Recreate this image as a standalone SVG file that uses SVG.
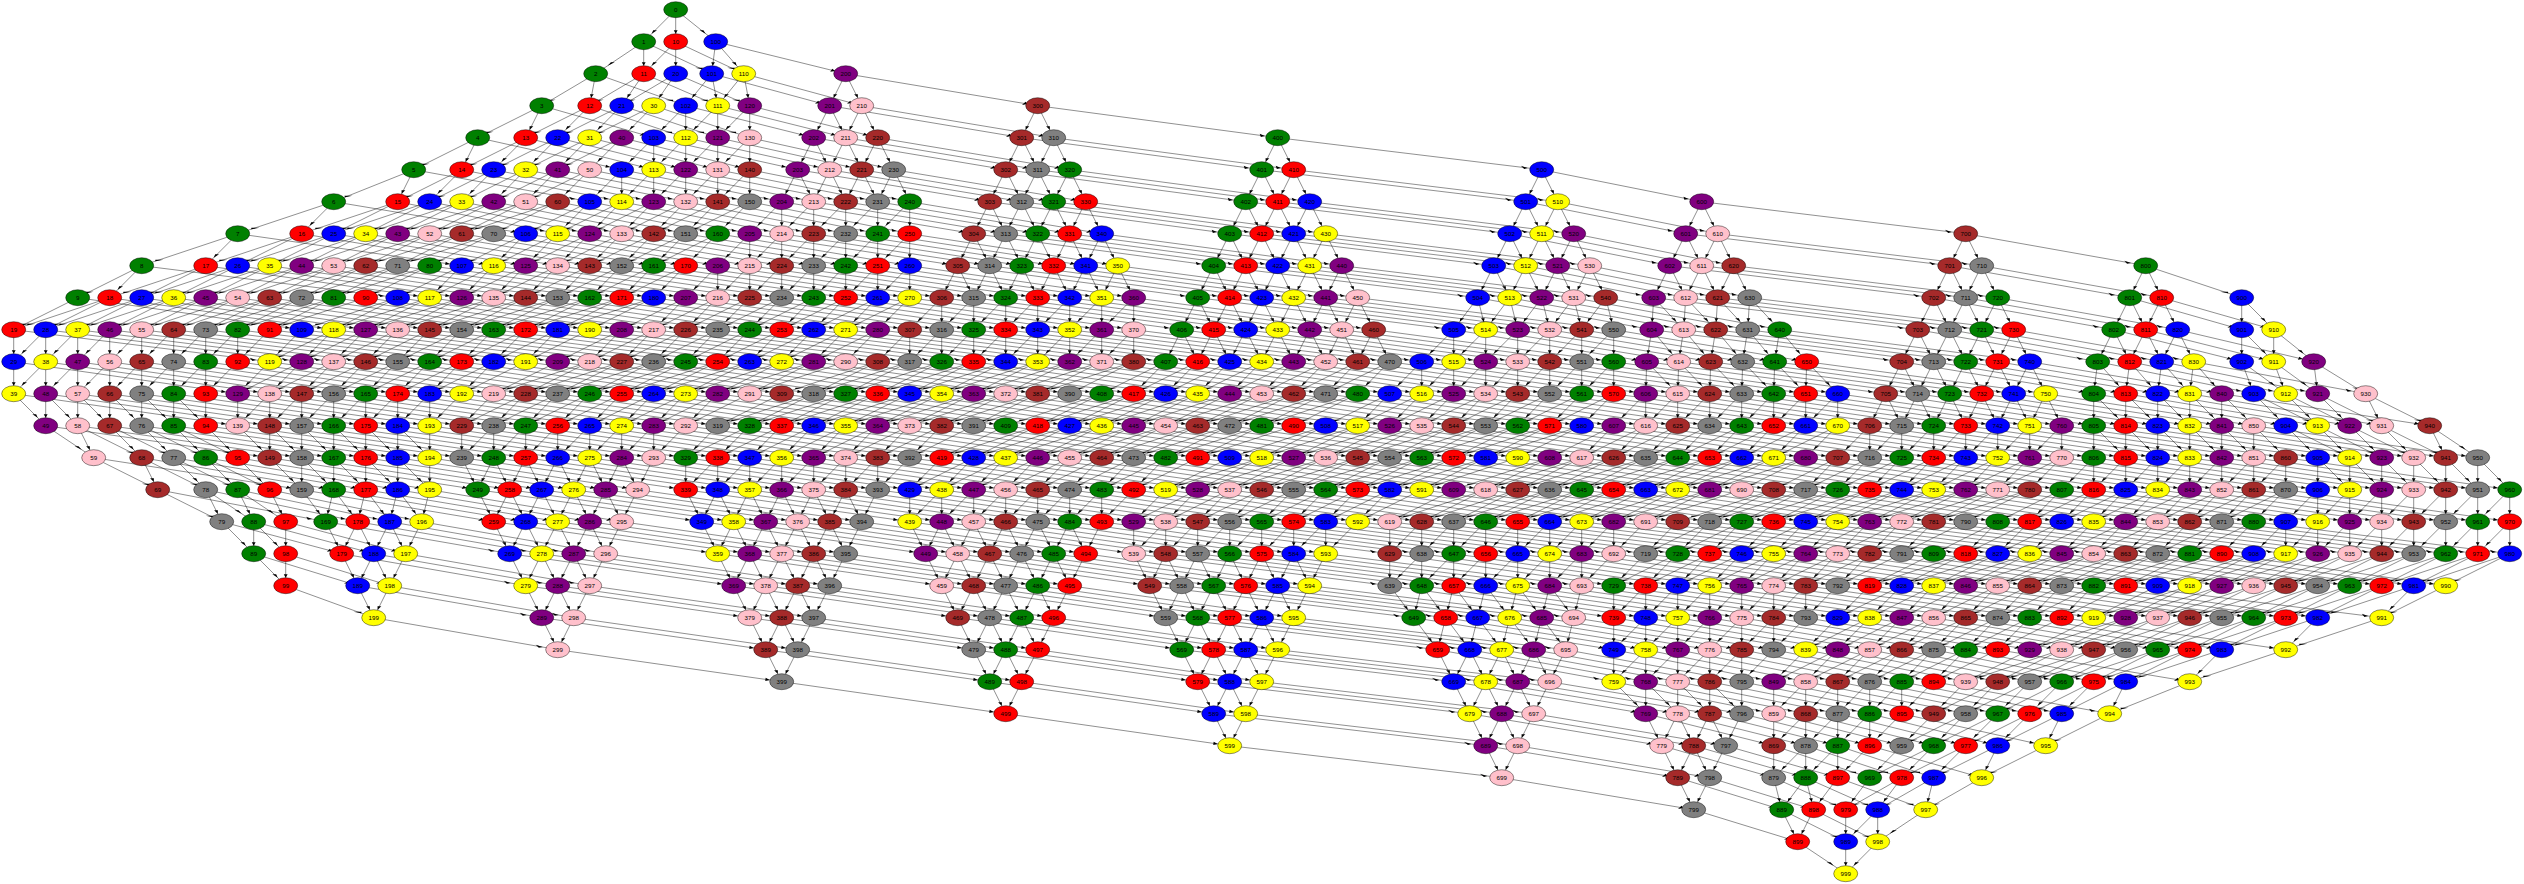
<svg xmlns="http://www.w3.org/2000/svg" width="2524" height="884" viewBox="0 0 2524 884">
<style>
#r1{fill:none;stroke:#000;stroke-width:.44;vector-effect:non-scaling-stroke}
.k{marker-end:url(#k)}.l{marker-end:url(#l)}.p{marker-end:url(#p)}.o{marker-end:url(#o)}
ellipse{rx:12px;ry:8px;stroke:#000;stroke-width:.44}
text{font:6.2px "Liberation Sans",Arial,sans-serif;text-anchor:middle;dominant-baseline:central;fill:#000}
.a{fill:green}.b{fill:red}.c{fill:blue}.d{fill:#ff0}.e{fill:purple}.f{fill:pink}.g{fill:brown}.h{fill:gray}
</style>
<defs>
<marker id="k" markerUnits="userSpaceOnUse" markerWidth="9" markerHeight="9" refX="8" orient="auto" overflow="visible"><path d="M0 0-3.4 1.9-3.4-1.9z"/></marker>
<marker id="l" markerUnits="userSpaceOnUse" markerWidth="9" markerHeight="9" refX="4.5" orient="auto" overflow="visible"><path d="M0 0-1.4 4-1.4-4z"/></marker>
<marker id="p" markerUnits="userSpaceOnUse" markerWidth="9" markerHeight="9" refX="2.6" orient="auto" overflow="visible"><path d="M0 0 .56 7.14-2.47-7.17z"/></marker>
<marker id="o" markerUnits="userSpaceOnUse" markerWidth="9" markerHeight="9" refX="1.7" orient="auto" overflow="visible"><path d="M0 0 .91 10.95-2.15-10.91z"/></marker>
<path id="r1" d="M0 0V32"/>
<g id="r2"><use href="#r1"/><use href="#r1" x="32"/></g>
<g id="r3"><use href="#r2"/><use href="#r1" x="64"/></g>
<g id="r4"><use href="#r2"/><use href="#r2" x="64"/></g>
<g id="r5"><use href="#r4"/><use href="#r1" x="128"/></g>
<g id="r6"><use href="#r4"/><use href="#r2" x="128"/></g>
<g id="r7"><use href="#r4"/><use href="#r3" x="128"/></g>
<g id="r8"><use href="#r4"/><use href="#r4" x="128"/></g>
<g id="r9"><use href="#r8"/><use href="#r1" x="256"/></g>
<g id="r10"><use href="#r8"/><use href="#r2" x="256"/></g>
</defs>
<rect width="2524" height="884" fill="#fff"/>
<g transform="translate(-.3 -.3)">
<g id="e">
<g id="e0">
<use class="k" href="#r1" transform="matrix(1 0 -1 1 676 10)"/><use class="k" href="#r1" transform="matrix(1 0 0 1 676 10)"/><use class="k" href="#r1" transform="matrix(1 0 1.25 1 676 10)"/>
<use class="k" href="#r1" transform="matrix(1 0 -1.5 1 644 42)"/><use class="k" href="#r1" transform="matrix(1 0 0 1 644 42)"/><use class="k" href="#r1" transform="matrix(1 0 -1 1 676 42)"/><use class="k" href="#r1" transform="matrix(1 0 0 1 676 42)"/><use class="l" href="#r2" transform="matrix(1 0 2.125 1 644 42)"/>
<use class="l" href="#r1" transform="matrix(1 0 -1.6875 1 596 74)"/><use class="k" href="#r1" transform="matrix(1 0 -.1875 1 596 74)"/><use class="l" href="#r2" transform="matrix(1 0 -1.6875 1 644 74)"/><use class="k" href="#r2" transform="matrix(1 0 -.6875 1 644 74)"/><use class="l" href="#r1" transform="matrix(1 0 2.8125 1 596 74)"/><use class="l" href="#r2" transform="matrix(1 0 2.3125 1 644 74)"/>
<use class="l" href="#r1" transform="matrix(1 0 -2 1 542 106)"/><use class="k" href="#r1" transform="matrix(1 0 -.5 1 542 106)"/><use class="l" href="#r3" transform="matrix(1 0 -2 1 590 106)"/><use class="k" href="#r3" transform="matrix(1 0 -1 1 590 106)"/><use class="p" href="#r1" transform="matrix(1 0 3.5 1 542 106)"/><use class="l" href="#r3" transform="matrix(1 0 3 1 590 106)"/>
<use class="l" href="#r1" transform="matrix(1 0 -2 1 478 138)"/><use class="k" href="#r1" transform="matrix(1 0 -.5 1 478 138)"/><use class="l" href="#r4" transform="matrix(1 0 -2 1 526 138)"/><use class="k" href="#r4" transform="matrix(1 0 -1 1 526 138)"/><use class="p" href="#r1" transform="matrix(1 0 4.5 1 478 138)"/><use class="p" href="#r4" transform="matrix(1 0 4 1 526 138)"/>
<use class="l" href="#r1" transform="matrix(1 0 -2.5 1 414 170)"/><use class="k" href="#r1" transform="matrix(1 0 -.5 1 414 170)"/><use class="l" href="#r5" transform="matrix(1 0 -2 1 462 170)"/><use class="k" href="#r5" transform="matrix(1 0 -1 1 462 170)"/><use class="p" href="#r1" transform="matrix(1 0 5.5 1 414 170)"/><use class="p" href="#r5" transform="matrix(1 0 5 1 462 170)"/>
<use class="l" href="#r1" transform="matrix(1 0 -3 1 334 202)"/><use class="k" href="#r1" transform="matrix(1 0 -1 1 334 202)"/><use class="l" href="#r6" transform="matrix(1 0 -3 1 398 202)"/><use class="l" href="#r6" transform="matrix(1 0 -2 1 398 202)"/><use class="o" href="#r1" transform="matrix(1 0 6 1 334 202)"/><use class="p" href="#r6" transform="matrix(1 0 5 1 398 202)"/>
<use class="l" href="#r1" transform="matrix(1 0 -3 1 238 234)"/><use class="k" href="#r1" transform="matrix(1 0 -1 1 238 234)"/><use class="l" href="#r7" transform="matrix(1 0 -3 1 302 234)"/><use class="l" href="#r7" transform="matrix(1 0 -2 1 302 234)"/><use class="o" href="#r1" transform="matrix(1 0 7 1 238 234)"/><use class="o" href="#r7" transform="matrix(1 0 6 1 302 234)"/>
<use class="l" href="#r1" transform="matrix(1 0 -2 1 142 266)"/><use class="k" href="#r1" transform="matrix(1 0 -1 1 142 266)"/><use class="l" href="#r8" transform="matrix(1 0 -3 1 206 266)"/><use class="l" href="#r8" transform="matrix(1 0 -2 1 206 266)"/><use class="o" href="#r1" transform="matrix(1 0 8 1 142 266)"/><use class="o" href="#r8" transform="matrix(1 0 7 1 206 266)"/>
<use class="l" href="#r9" transform="matrix(1 0 -3 1 110 298)"/><use class="l" href="#r9" transform="matrix(1 0 -2 1 78 298)"/><use class="o" href="#r10" transform="matrix(1 0 7 1 78 298)"/>
<use class="k" href="#r8" transform="matrix(1 0 -1 1 46 330)"/><use class="k" href="#r8" transform="matrix(1 0 0 1 14 330)"/><use class="o" href="#r9" transform="matrix(1 0 8 1 14 330)"/>
<use class="k" href="#r7" transform="matrix(1 0 -1 1 46 362)"/><use class="k" href="#r7" transform="matrix(1 0 0 1 14 362)"/><use class="o" href="#r8" transform="matrix(1 0 7 1 14 362)"/>
<use class="k" href="#r6" transform="matrix(1 0 0 1 46 394)"/><use class="k" href="#r6" transform="matrix(1 0 1 1 14 394)"/><use class="o" href="#r7" transform="matrix(1 0 7 1 14 394)"/>
<use class="k" href="#r1" transform="matrix(1 0 1.5 1 46 426)"/><use class="l" href="#r4" transform="matrix(1 0 2 1 78 426)"/><use class="k" href="#r1" transform="matrix(1 0 .5 1 78 426)"/><use class="k" href="#r4" transform="matrix(1 0 1 1 110 426)"/><use class="o" href="#r6" transform="matrix(1 0 7 1 46 426)"/>
<use class="l" href="#r1" transform="matrix(1 0 2 1 94 458)"/><use class="l" href="#r3" transform="matrix(1 0 2 1 142 458)"/><use class="k" href="#r1" transform="matrix(1 0 .5 1 142 458)"/><use class="k" href="#r3" transform="matrix(1 0 1 1 174 458)"/><use class="o" href="#r1" transform="matrix(1 0 6.5 1 94 458)"/><use class="o" href="#r4" transform="matrix(1 0 6 1 142 458)"/>
<use class="l" href="#r1" transform="matrix(1 0 2 1 158 490)"/><use class="k" href="#r2" transform="matrix(1 0 1.5 1 206 490)"/><use class="k" href="#r3" transform="matrix(1 0 .5 1 206 490)"/><use class="p" href="#r1" transform="matrix(1 0 5.25 1 158 490)"/><use class="p" href="#r3" transform="matrix(1 0 4.75 1 206 490)"/>
<use class="k" href="#r2" transform="matrix(1 0 0 1 254 522)"/><use class="k" href="#r2" transform="matrix(1 0 1 1 222 522)"/><use class="p" href="#r3" transform="matrix(1 0 3.75 1 222 522)"/>
<use class="k" href="#r1" transform="matrix(1 0 0 1 286 554)"/><use class="k" href="#r1" transform="matrix(1 0 1 1 254 554)"/><use class="p" href="#r2" transform="matrix(1 0 3.25 1 254 554)"/>
<use class="l" href="#r1" transform="matrix(1 0 2.75 1 286 586)"/>
</g>
<g id="e1">
<use class="k" href="#r1" transform="matrix(1 0 -.125 1 716 42)"/><use class="k" href="#r1" transform="matrix(1 0 .875 1 716 42)"/><use class="p" href="#r1" transform="matrix(1 0 4.0625 1 716 42)"/>
<use class="k" href="#r2" transform="matrix(1 0 -.8125 1 712 74)"/><use class="k" href="#r2" transform="matrix(1 0 .1875 1 712 74)"/><use class="p" href="#r2" transform="matrix(1 0 3.6875 1 712 74)"/>
<use class="k" href="#r3" transform="matrix(1 0 -1 1 686 106)"/><use class="k" href="#r3" transform="matrix(1 0 0 1 686 106)"/><use class="p" href="#r3" transform="matrix(1 0 4 1 686 106)"/>
<use class="k" href="#r4" transform="matrix(1 0 -1 1 654 138)"/><use class="k" href="#r4" transform="matrix(1 0 0 1 654 138)"/><use class="p" href="#r4" transform="matrix(1 0 4.5 1 654 138)"/>
<use class="k" href="#r5" transform="matrix(1 0 -1 1 622 170)"/><use class="k" href="#r5" transform="matrix(1 0 0 1 622 170)"/><use class="p" href="#r5" transform="matrix(1 0 5 1 622 170)"/>
<use class="l" href="#r6" transform="matrix(1 0 -2 1 590 202)"/><use class="k" href="#r6" transform="matrix(1 0 -1 1 590 202)"/><use class="p" href="#r6" transform="matrix(1 0 5 1 590 202)"/>
<use class="l" href="#r7" transform="matrix(1 0 -2 1 526 234)"/><use class="k" href="#r7" transform="matrix(1 0 -1 1 526 234)"/><use class="o" href="#r7" transform="matrix(1 0 6 1 526 234)"/>
<use class="l" href="#r8" transform="matrix(1 0 -2 1 462 266)"/><use class="k" href="#r8" transform="matrix(1 0 -1 1 462 266)"/><use class="o" href="#r8" transform="matrix(1 0 7 1 462 266)"/>
<use class="l" href="#r9" transform="matrix(1 0 -3 1 398 298)"/><use class="l" href="#r9" transform="matrix(1 0 -2 1 398 298)"/><use class="o" href="#r9" transform="matrix(1 0 7 1 398 298)"/>
<use class="l" href="#r9" transform="matrix(1 0 -2 1 334 330)"/><use class="k" href="#r9" transform="matrix(1 0 -1 1 302 330)"/><use class="o" href="#r10" transform="matrix(1 0 8 1 302 330)"/>
<use class="l" href="#r8" transform="matrix(1 0 -2 1 302 362)"/><use class="k" href="#r8" transform="matrix(1 0 -1 1 270 362)"/><use class="o" href="#r9" transform="matrix(1 0 7 1 270 362)"/>
<use class="k" href="#r7" transform="matrix(1 0 -1 1 270 394)"/><use class="k" href="#r7" transform="matrix(1 0 0 1 238 394)"/><use class="o" href="#r8" transform="matrix(1 0 7 1 238 394)"/>
<use class="k" href="#r6" transform="matrix(1 0 0 1 270 426)"/><use class="k" href="#r6" transform="matrix(1 0 1 1 238 426)"/><use class="o" href="#r7" transform="matrix(1 0 7 1 238 426)"/>
<use class="k" href="#r5" transform="matrix(1 0 0 1 302 458)"/><use class="k" href="#r5" transform="matrix(1 0 1 1 270 458)"/><use class="o" href="#r6" transform="matrix(1 0 6.5 1 270 458)"/>
<use class="k" href="#r4" transform="matrix(1 0 -.25 1 334 490)"/><use class="k" href="#r4" transform="matrix(1 0 .75 1 302 490)"/><use class="o" href="#r5" transform="matrix(1 0 6 1 302 490)"/>
<use class="k" href="#r3" transform="matrix(1 0 -.5 1 358 522)"/><use class="k" href="#r3" transform="matrix(1 0 .5 1 326 522)"/><use class="p" href="#r4" transform="matrix(1 0 5.75 1 326 522)"/>
<use class="k" href="#r2" transform="matrix(1 0 -.5 1 374 554)"/><use class="k" href="#r2" transform="matrix(1 0 .5 1 342 554)"/><use class="p" href="#r3" transform="matrix(1 0 5.75 1 342 554)"/>
<use class="k" href="#r1" transform="matrix(1 0 -.5 1 390 586)"/><use class="k" href="#r1" transform="matrix(1 0 .5 1 358 586)"/><use class="p" href="#r2" transform="matrix(1 0 5.75 1 358 586)"/>
<use class="p" href="#r1" transform="matrix(1 0 5.75 1 374 618)"/>
</g>
<g id="e2">
<use class="k" href="#r1" transform="matrix(1 0 -.5 1 846 74)"/><use class="k" href="#r1" transform="matrix(1 0 .5 1 846 74)"/><use class="o" href="#r1" transform="matrix(1 0 6 1 846 74)"/>
<use class="k" href="#r2" transform="matrix(1 0 -.5 1 830 106)"/><use class="k" href="#r2" transform="matrix(1 0 .5 1 830 106)"/><use class="o" href="#r2" transform="matrix(1 0 6 1 830 106)"/>
<use class="k" href="#r3" transform="matrix(1 0 -.5 1 814 138)"/><use class="k" href="#r3" transform="matrix(1 0 .5 1 814 138)"/><use class="o" href="#r3" transform="matrix(1 0 6 1 814 138)"/>
<use class="k" href="#r4" transform="matrix(1 0 -.5 1 798 170)"/><use class="k" href="#r4" transform="matrix(1 0 .5 1 798 170)"/><use class="o" href="#r4" transform="matrix(1 0 6 1 798 170)"/>
<use class="k" href="#r5" transform="matrix(1 0 -1 1 782 202)"/><use class="k" href="#r5" transform="matrix(1 0 0 1 782 202)"/><use class="o" href="#r5" transform="matrix(1 0 6 1 782 202)"/>
<use class="k" href="#r6" transform="matrix(1 0 -1 1 750 234)"/><use class="k" href="#r6" transform="matrix(1 0 0 1 750 234)"/><use class="o" href="#r6" transform="matrix(1 0 6.5 1 750 234)"/>
<use class="k" href="#r7" transform="matrix(1 0 -1 1 718 266)"/><use class="k" href="#r7" transform="matrix(1 0 0 1 718 266)"/><use class="o" href="#r7" transform="matrix(1 0 7 1 718 266)"/>
<use class="l" href="#r8" transform="matrix(1 0 -2 1 686 298)"/><use class="k" href="#r8" transform="matrix(1 0 -1 1 686 298)"/><use class="o" href="#r8" transform="matrix(1 0 7 1 686 298)"/>
<use class="l" href="#r9" transform="matrix(1 0 -2 1 622 330)"/><use class="k" href="#r9" transform="matrix(1 0 -1 1 622 330)"/><use class="o" href="#r9" transform="matrix(1 0 8 1 622 330)"/>
<use class="l" href="#r9" transform="matrix(1 0 -3 1 590 362)"/><use class="l" href="#r9" transform="matrix(1 0 -2 1 558 362)"/><use class="o" href="#r10" transform="matrix(1 0 7 1 558 362)"/>
<use class="l" href="#r8" transform="matrix(1 0 -2 1 526 394)"/><use class="k" href="#r8" transform="matrix(1 0 -1 1 494 394)"/><use class="o" href="#r9" transform="matrix(1 0 7 1 494 394)"/>
<use class="k" href="#r7" transform="matrix(1 0 -1 1 494 426)"/><use class="k" href="#r7" transform="matrix(1 0 0 1 462 426)"/><use class="o" href="#r8" transform="matrix(1 0 7 1 462 426)"/>
<use class="k" href="#r6" transform="matrix(1 0 -.5 1 494 458)"/><use class="k" href="#r6" transform="matrix(1 0 .5 1 462 458)"/><use class="o" href="#r7" transform="matrix(1 0 7 1 462 458)"/>
<use class="k" href="#r5" transform="matrix(1 0 -.5 1 510 490)"/><use class="k" href="#r5" transform="matrix(1 0 .5 1 478 490)"/><use class="o" href="#r6" transform="matrix(1 0 7 1 478 490)"/>
<use class="k" href="#r4" transform="matrix(1 0 -.5 1 526 522)"/><use class="k" href="#r4" transform="matrix(1 0 .5 1 494 522)"/><use class="o" href="#r5" transform="matrix(1 0 7 1 494 522)"/>
<use class="k" href="#r3" transform="matrix(1 0 -.5 1 542 554)"/><use class="k" href="#r3" transform="matrix(1 0 .5 1 510 554)"/><use class="o" href="#r4" transform="matrix(1 0 7 1 510 554)"/>
<use class="k" href="#r2" transform="matrix(1 0 -.5 1 558 586)"/><use class="k" href="#r2" transform="matrix(1 0 .5 1 526 586)"/><use class="o" href="#r3" transform="matrix(1 0 7 1 526 586)"/>
<use class="k" href="#r1" transform="matrix(1 0 -.5 1 574 618)"/><use class="k" href="#r1" transform="matrix(1 0 .5 1 542 618)"/><use class="o" href="#r2" transform="matrix(1 0 7 1 542 618)"/>
<use class="o" href="#r1" transform="matrix(1 0 7 1 558 650)"/>
</g>
<g id="e3">
<use class="k" href="#r1" transform="matrix(1 0 -.5 1 1038 106)"/><use class="k" href="#r1" transform="matrix(1 0 .5 1 1038 106)"/><use class="o" href="#r1" transform="matrix(1 0 7.5 1 1038 106)"/>
<use class="k" href="#r2" transform="matrix(1 0 -.5 1 1022 138)"/><use class="k" href="#r2" transform="matrix(1 0 .5 1 1022 138)"/><use class="o" href="#r2" transform="matrix(1 0 7.5 1 1022 138)"/>
<use class="k" href="#r3" transform="matrix(1 0 -.5 1 1006 170)"/><use class="k" href="#r3" transform="matrix(1 0 .5 1 1006 170)"/><use class="o" href="#r3" transform="matrix(1 0 7.5 1 1006 170)"/>
<use class="k" href="#r4" transform="matrix(1 0 -.5 1 990 202)"/><use class="k" href="#r4" transform="matrix(1 0 .5 1 990 202)"/><use class="o" href="#r4" transform="matrix(1 0 7.5 1 990 202)"/>
<use class="k" href="#r5" transform="matrix(1 0 -.5 1 974 234)"/><use class="k" href="#r5" transform="matrix(1 0 .5 1 974 234)"/><use class="o" href="#r5" transform="matrix(1 0 7.5 1 974 234)"/>
<use class="k" href="#r6" transform="matrix(1 0 -.5 1 958 266)"/><use class="k" href="#r6" transform="matrix(1 0 .5 1 958 266)"/><use class="o" href="#r6" transform="matrix(1 0 7.5 1 958 266)"/>
<use class="k" href="#r7" transform="matrix(1 0 -1 1 942 298)"/><use class="k" href="#r7" transform="matrix(1 0 0 1 942 298)"/><use class="o" href="#r7" transform="matrix(1 0 7.5 1 942 298)"/>
<use class="k" href="#r8" transform="matrix(1 0 -1 1 910 330)"/><use class="k" href="#r8" transform="matrix(1 0 0 1 910 330)"/><use class="o" href="#r8" transform="matrix(1 0 8 1 910 330)"/>
<use class="l" href="#r9" transform="matrix(1 0 -3 1 878 362)"/><use class="l" href="#r9" transform="matrix(1 0 -2 1 878 362)"/><use class="o" href="#r9" transform="matrix(1 0 7 1 878 362)"/>
<use class="l" href="#r9" transform="matrix(1 0 -3 1 814 394)"/><use class="l" href="#r9" transform="matrix(1 0 -2 1 782 394)"/><use class="o" href="#r10" transform="matrix(1 0 7 1 782 394)"/>
<use class="l" href="#r8" transform="matrix(1 0 -2 1 750 426)"/><use class="k" href="#r8" transform="matrix(1 0 -1 1 718 426)"/><use class="o" href="#r9" transform="matrix(1 0 7 1 718 426)"/>
<use class="k" href="#r7" transform="matrix(1 0 -1 1 718 458)"/><use class="k" href="#r7" transform="matrix(1 0 0 1 686 458)"/><use class="o" href="#r8" transform="matrix(1 0 7 1 686 458)"/>
<use class="k" href="#r6" transform="matrix(1 0 -.5 1 718 490)"/><use class="k" href="#r6" transform="matrix(1 0 .5 1 686 490)"/><use class="o" href="#r7" transform="matrix(1 0 7 1 686 490)"/>
<use class="k" href="#r5" transform="matrix(1 0 -.5 1 734 522)"/><use class="k" href="#r5" transform="matrix(1 0 .5 1 702 522)"/><use class="o" href="#r6" transform="matrix(1 0 7 1 702 522)"/>
<use class="k" href="#r4" transform="matrix(1 0 -.5 1 750 554)"/><use class="k" href="#r4" transform="matrix(1 0 .5 1 718 554)"/><use class="o" href="#r5" transform="matrix(1 0 7 1 718 554)"/>
<use class="k" href="#r3" transform="matrix(1 0 -.5 1 766 586)"/><use class="k" href="#r3" transform="matrix(1 0 .5 1 734 586)"/><use class="o" href="#r4" transform="matrix(1 0 7 1 734 586)"/>
<use class="k" href="#r2" transform="matrix(1 0 -.5 1 782 618)"/><use class="k" href="#r2" transform="matrix(1 0 .5 1 750 618)"/><use class="o" href="#r3" transform="matrix(1 0 7 1 750 618)"/>
<use class="k" href="#r1" transform="matrix(1 0 -.5 1 798 650)"/><use class="k" href="#r1" transform="matrix(1 0 .5 1 766 650)"/><use class="o" href="#r2" transform="matrix(1 0 7 1 766 650)"/>
<use class="o" href="#r1" transform="matrix(1 0 7 1 782 682)"/>
</g>
<g id="e4">
<use class="k" href="#r1" transform="matrix(1 0 -.5 1 1278 138)"/><use class="k" href="#r1" transform="matrix(1 0 .5 1 1278 138)"/><use class="o" href="#r1" transform="matrix(1 0 8.25 1 1278 138)"/>
<use class="k" href="#r2" transform="matrix(1 0 -.5 1 1262 170)"/><use class="k" href="#r2" transform="matrix(1 0 .5 1 1262 170)"/><use class="o" href="#r2" transform="matrix(1 0 8.25 1 1262 170)"/>
<use class="k" href="#r3" transform="matrix(1 0 -.5 1 1246 202)"/><use class="k" href="#r3" transform="matrix(1 0 .5 1 1246 202)"/><use class="o" href="#r3" transform="matrix(1 0 8.25 1 1246 202)"/>
<use class="k" href="#r4" transform="matrix(1 0 -.5 1 1230 234)"/><use class="k" href="#r4" transform="matrix(1 0 .5 1 1230 234)"/><use class="o" href="#r4" transform="matrix(1 0 8.25 1 1230 234)"/>
<use class="k" href="#r5" transform="matrix(1 0 -.5 1 1214 266)"/><use class="k" href="#r5" transform="matrix(1 0 .5 1 1214 266)"/><use class="o" href="#r5" transform="matrix(1 0 8.25 1 1214 266)"/>
<use class="k" href="#r6" transform="matrix(1 0 -.5 1 1198 298)"/><use class="k" href="#r6" transform="matrix(1 0 .5 1 1198 298)"/><use class="o" href="#r6" transform="matrix(1 0 8 1 1198 298)"/>
<use class="k" href="#r7" transform="matrix(1 0 -.5 1 1182 330)"/><use class="k" href="#r7" transform="matrix(1 0 .5 1 1182 330)"/><use class="o" href="#r7" transform="matrix(1 0 7.5 1 1182 330)"/>
<use class="l" href="#r8" transform="matrix(1 0 -2 1 1166 362)"/><use class="k" href="#r8" transform="matrix(1 0 -1 1 1166 362)"/><use class="o" href="#r8" transform="matrix(1 0 7 1 1166 362)"/>
<use class="l" href="#r9" transform="matrix(1 0 -3 1 1102 394)"/><use class="l" href="#r9" transform="matrix(1 0 -2 1 1102 394)"/><use class="o" href="#r9" transform="matrix(1 0 7 1 1102 394)"/>
<use class="l" href="#r9" transform="matrix(1 0 -3 1 1038 426)"/><use class="l" href="#r9" transform="matrix(1 0 -2 1 1006 426)"/><use class="o" href="#r10" transform="matrix(1 0 7 1 1006 426)"/>
<use class="l" href="#r8" transform="matrix(1 0 -2 1 974 458)"/><use class="k" href="#r8" transform="matrix(1 0 -1 1 942 458)"/><use class="o" href="#r9" transform="matrix(1 0 7 1 942 458)"/>
<use class="k" href="#r7" transform="matrix(1 0 -1 1 942 490)"/><use class="k" href="#r7" transform="matrix(1 0 0 1 910 490)"/><use class="o" href="#r8" transform="matrix(1 0 7 1 910 490)"/>
<use class="k" href="#r6" transform="matrix(1 0 -.5 1 942 522)"/><use class="k" href="#r6" transform="matrix(1 0 .5 1 910 522)"/><use class="o" href="#r7" transform="matrix(1 0 7 1 910 522)"/>
<use class="k" href="#r5" transform="matrix(1 0 -.5 1 958 554)"/><use class="k" href="#r5" transform="matrix(1 0 .5 1 926 554)"/><use class="o" href="#r6" transform="matrix(1 0 7 1 926 554)"/>
<use class="k" href="#r4" transform="matrix(1 0 -.5 1 974 586)"/><use class="k" href="#r4" transform="matrix(1 0 .5 1 942 586)"/><use class="o" href="#r5" transform="matrix(1 0 7 1 942 586)"/>
<use class="k" href="#r3" transform="matrix(1 0 -.5 1 990 618)"/><use class="k" href="#r3" transform="matrix(1 0 .5 1 958 618)"/><use class="o" href="#r4" transform="matrix(1 0 7 1 958 618)"/>
<use class="k" href="#r2" transform="matrix(1 0 -.5 1 1006 650)"/><use class="k" href="#r2" transform="matrix(1 0 .5 1 974 650)"/><use class="o" href="#r3" transform="matrix(1 0 7 1 974 650)"/>
<use class="k" href="#r1" transform="matrix(1 0 -.5 1 1022 682)"/><use class="k" href="#r1" transform="matrix(1 0 .5 1 990 682)"/><use class="o" href="#r2" transform="matrix(1 0 7 1 990 682)"/>
<use class="o" href="#r1" transform="matrix(1 0 7 1 1006 714)"/>
</g>
<g id="e5">
<use class="k" href="#r1" transform="matrix(1 0 -.5 1 1542 170)"/><use class="k" href="#r1" transform="matrix(1 0 .5 1 1542 170)"/><use class="p" href="#r1" transform="matrix(1 0 5 1 1542 170)"/>
<use class="k" href="#r2" transform="matrix(1 0 -.5 1 1526 202)"/><use class="k" href="#r2" transform="matrix(1 0 .5 1 1526 202)"/><use class="p" href="#r2" transform="matrix(1 0 5 1 1526 202)"/>
<use class="k" href="#r3" transform="matrix(1 0 -.5 1 1510 234)"/><use class="k" href="#r3" transform="matrix(1 0 .5 1 1510 234)"/><use class="p" href="#r3" transform="matrix(1 0 5 1 1510 234)"/>
<use class="k" href="#r4" transform="matrix(1 0 -.5 1 1494 266)"/><use class="k" href="#r4" transform="matrix(1 0 .5 1 1494 266)"/><use class="p" href="#r4" transform="matrix(1 0 5 1 1494 266)"/>
<use class="k" href="#r5" transform="matrix(1 0 -.75 1 1478 298)"/><use class="k" href="#r5" transform="matrix(1 0 .25 1 1478 298)"/><use class="p" href="#r5" transform="matrix(1 0 5.4375 1 1478 298)"/>
<use class="k" href="#r6" transform="matrix(1 0 -1 1 1454 330)"/><use class="k" href="#r6" transform="matrix(1 0 0 1 1454 330)"/><use class="o" href="#r6" transform="matrix(1 0 6.03125 1 1454 330)"/>
<use class="k" href="#r7" transform="matrix(1 0 -1 1 1422 362)"/><use class="k" href="#r7" transform="matrix(1 0 0 1 1422 362)"/><use class="o" href="#r7" transform="matrix(1 0 7 1 1422 362)"/>
<use class="l" href="#r8" transform="matrix(1 0 -2 1 1390 394)"/><use class="k" href="#r8" transform="matrix(1 0 -1 1 1390 394)"/><use class="o" href="#r8" transform="matrix(1 0 7 1 1390 394)"/>
<use class="l" href="#r9" transform="matrix(1 0 -3 1 1326 426)"/><use class="l" href="#r9" transform="matrix(1 0 -2 1 1326 426)"/><use class="o" href="#r9" transform="matrix(1 0 7 1 1326 426)"/>
<use class="l" href="#r9" transform="matrix(1 0 -3 1 1262 458)"/><use class="l" href="#r9" transform="matrix(1 0 -2 1 1230 458)"/><use class="o" href="#r10" transform="matrix(1 0 7 1 1230 458)"/>
<use class="l" href="#r8" transform="matrix(1 0 -2 1 1198 490)"/><use class="k" href="#r8" transform="matrix(1 0 -1 1 1166 490)"/><use class="o" href="#r9" transform="matrix(1 0 7 1 1166 490)"/>
<use class="k" href="#r7" transform="matrix(1 0 -1 1 1166 522)"/><use class="k" href="#r7" transform="matrix(1 0 0 1 1134 522)"/><use class="o" href="#r8" transform="matrix(1 0 8 1 1134 522)"/>
<use class="k" href="#r6" transform="matrix(1 0 -.5 1 1166 554)"/><use class="k" href="#r6" transform="matrix(1 0 .5 1 1134 554)"/><use class="o" href="#r7" transform="matrix(1 0 8 1 1134 554)"/>
<use class="k" href="#r5" transform="matrix(1 0 -.5 1 1182 586)"/><use class="k" href="#r5" transform="matrix(1 0 .5 1 1150 586)"/><use class="o" href="#r6" transform="matrix(1 0 8.25 1 1150 586)"/>
<use class="k" href="#r4" transform="matrix(1 0 -.5 1 1198 618)"/><use class="k" href="#r4" transform="matrix(1 0 .5 1 1166 618)"/><use class="o" href="#r5" transform="matrix(1 0 8.5 1 1166 618)"/>
<use class="k" href="#r3" transform="matrix(1 0 -.5 1 1214 650)"/><use class="k" href="#r3" transform="matrix(1 0 .5 1 1182 650)"/><use class="o" href="#r4" transform="matrix(1 0 8.5 1 1182 650)"/>
<use class="k" href="#r2" transform="matrix(1 0 -.5 1 1230 682)"/><use class="k" href="#r2" transform="matrix(1 0 .5 1 1198 682)"/><use class="o" href="#r3" transform="matrix(1 0 8.5 1 1198 682)"/>
<use class="k" href="#r1" transform="matrix(1 0 -.5 1 1246 714)"/><use class="k" href="#r1" transform="matrix(1 0 .5 1 1214 714)"/><use class="o" href="#r2" transform="matrix(1 0 8.5 1 1214 714)"/>
<use class="o" href="#r1" transform="matrix(1 0 8.5 1 1230 746)"/>
</g>
<g id="e6">
<use class="k" href="#r1" transform="matrix(1 0 -.5 1 1702 202)"/><use class="k" href="#r1" transform="matrix(1 0 .5 1 1702 202)"/><use class="o" href="#r1" transform="matrix(1 0 8.25 1 1702 202)"/>
<use class="k" href="#r2" transform="matrix(1 0 -.5 1 1686 234)"/><use class="k" href="#r2" transform="matrix(1 0 .5 1 1686 234)"/><use class="o" href="#r2" transform="matrix(1 0 8.25 1 1686 234)"/>
<use class="k" href="#r3" transform="matrix(1 0 -.5 1 1670 266)"/><use class="k" href="#r3" transform="matrix(1 0 .5 1 1670 266)"/><use class="o" href="#r3" transform="matrix(1 0 8.25 1 1670 266)"/>
<use class="k" href="#r4" transform="matrix(1 0 -.0625 1 1654 298)"/><use class="k" href="#r4" transform="matrix(1 0 .9375 1 1654 298)"/><use class="o" href="#r4" transform="matrix(1 0 8.25 1 1654 298)"/>
<use class="k" href="#r5" transform="matrix(1 0 -.15625 1 1652 330)"/><use class="k" href="#r5" transform="matrix(1 0 .84375 1 1652 330)"/><use class="o" href="#r5" transform="matrix(1 0 7.8125 1 1652 330)"/>
<use class="k" href="#r6" transform="matrix(1 0 -.03125 1 1647 362)"/><use class="k" href="#r6" transform="matrix(1 0 .96875 1 1647 362)"/><use class="o" href="#r6" transform="matrix(1 0 7.46875 1 1647 362)"/>
<use class="k" href="#r7" transform="matrix(1 0 -1 1 1646 394)"/><use class="k" href="#r7" transform="matrix(1 0 0 1 1646 394)"/><use class="o" href="#r7" transform="matrix(1 0 7 1 1646 394)"/>
<use class="l" href="#r8" transform="matrix(1 0 -2 1 1614 426)"/><use class="k" href="#r8" transform="matrix(1 0 -1 1 1614 426)"/><use class="o" href="#r8" transform="matrix(1 0 7 1 1614 426)"/>
<use class="l" href="#r9" transform="matrix(1 0 -3 1 1550 458)"/><use class="l" href="#r9" transform="matrix(1 0 -2 1 1550 458)"/><use class="o" href="#r9" transform="matrix(1 0 7 1 1550 458)"/>
<use class="l" href="#r9" transform="matrix(1 0 -3 1 1486 490)"/><use class="l" href="#r9" transform="matrix(1 0 -2 1 1454 490)"/><use class="o" href="#r10" transform="matrix(1 0 7 1 1454 490)"/>
<use class="k" href="#r8" transform="matrix(1 0 -1 1 1422 522)"/><use class="k" href="#r8" transform="matrix(1 0 0 1 1390 522)"/><use class="o" href="#r9" transform="matrix(1 0 8 1 1390 522)"/>
<use class="k" href="#r7" transform="matrix(1 0 -1 1 1422 554)"/><use class="k" href="#r7" transform="matrix(1 0 0 1 1390 554)"/><use class="o" href="#r8" transform="matrix(1 0 7 1 1390 554)"/>
<use class="k" href="#r6" transform="matrix(1 0 -.25 1 1422 586)"/><use class="k" href="#r6" transform="matrix(1 0 .75 1 1390 586)"/><use class="o" href="#r7" transform="matrix(1 0 7 1 1390 586)"/>
<use class="k" href="#r5" transform="matrix(1 0 -.25 1 1446 618)"/><use class="k" href="#r5" transform="matrix(1 0 .75 1 1414 618)"/><use class="o" href="#r6" transform="matrix(1 0 6.25 1 1414 618)"/>
<use class="k" href="#r4" transform="matrix(1 0 -.5 1 1470 650)"/><use class="k" href="#r4" transform="matrix(1 0 .5 1 1438 650)"/><use class="p" href="#r5" transform="matrix(1 0 5.5 1 1438 650)"/>
<use class="k" href="#r3" transform="matrix(1 0 -.5 1 1486 682)"/><use class="k" href="#r3" transform="matrix(1 0 .5 1 1454 682)"/><use class="o" href="#r4" transform="matrix(1 0 6 1 1454 682)"/>
<use class="k" href="#r2" transform="matrix(1 0 -.5 1 1502 714)"/><use class="k" href="#r2" transform="matrix(1 0 .5 1 1470 714)"/><use class="o" href="#r3" transform="matrix(1 0 6 1 1470 714)"/>
<use class="k" href="#r1" transform="matrix(1 0 -.5 1 1518 746)"/><use class="k" href="#r1" transform="matrix(1 0 .5 1 1486 746)"/><use class="o" href="#r2" transform="matrix(1 0 6 1 1486 746)"/>
<use class="o" href="#r1" transform="matrix(1 0 6 1 1502 778)"/>
</g>
<g id="e7">
<use class="k" href="#r1" transform="matrix(1 0 -.5 1 1966 234)"/><use class="k" href="#r1" transform="matrix(1 0 .5 1 1966 234)"/><use class="p" href="#r1" transform="matrix(1 0 5.625 1 1966 234)"/>
<use class="k" href="#r2" transform="matrix(1 0 -.5 1 1950 266)"/><use class="k" href="#r2" transform="matrix(1 0 .5 1 1950 266)"/><use class="p" href="#r2" transform="matrix(1 0 5.625 1 1950 266)"/>
<use class="k" href="#r3" transform="matrix(1 0 -.5 1 1934 298)"/><use class="k" href="#r3" transform="matrix(1 0 .5 1 1934 298)"/><use class="p" href="#r3" transform="matrix(1 0 5.625 1 1934 298)"/>
<use class="k" href="#r4" transform="matrix(1 0 -.5 1 1918 330)"/><use class="k" href="#r4" transform="matrix(1 0 .5 1 1918 330)"/><use class="p" href="#r4" transform="matrix(1 0 5.625 1 1918 330)"/>
<use class="k" href="#r5" transform="matrix(1 0 -.5 1 1902 362)"/><use class="k" href="#r5" transform="matrix(1 0 .5 1 1902 362)"/><use class="o" href="#r5" transform="matrix(1 0 6 1 1902 362)"/>
<use class="k" href="#r6" transform="matrix(1 0 -.5 1 1886 394)"/><use class="k" href="#r6" transform="matrix(1 0 .5 1 1886 394)"/><use class="o" href="#r6" transform="matrix(1 0 6.5 1 1886 394)"/>
<use class="k" href="#r7" transform="matrix(1 0 -1 1 1870 426)"/><use class="k" href="#r7" transform="matrix(1 0 0 1 1870 426)"/><use class="o" href="#r7" transform="matrix(1 0 7 1 1870 426)"/>
<use class="l" href="#r8" transform="matrix(1 0 -2 1 1838 458)"/><use class="k" href="#r8" transform="matrix(1 0 -1 1 1838 458)"/><use class="o" href="#r8" transform="matrix(1 0 7 1 1838 458)"/>
<use class="l" href="#r9" transform="matrix(1 0 -3 1 1774 490)"/><use class="l" href="#r9" transform="matrix(1 0 -2 1 1774 490)"/><use class="o" href="#r9" transform="matrix(1 0 7 1 1774 490)"/>
<use class="l" href="#r9" transform="matrix(1 0 -2 1 1710 522)"/><use class="k" href="#r9" transform="matrix(1 0 -1 1 1678 522)"/><use class="o" href="#r10" transform="matrix(1 0 8 1 1678 522)"/>
<use class="l" href="#r8" transform="matrix(1 0 -2 1 1678 554)"/><use class="k" href="#r8" transform="matrix(1 0 -1 1 1646 554)"/><use class="o" href="#r9" transform="matrix(1 0 7 1 1646 554)"/>
<use class="k" href="#r7" transform="matrix(1 0 -1 1 1646 586)"/><use class="k" href="#r7" transform="matrix(1 0 0 1 1614 586)"/><use class="o" href="#r8" transform="matrix(1 0 7 1 1614 586)"/>
<use class="k" href="#r6" transform="matrix(1 0 -1 1 1646 618)"/><use class="k" href="#r6" transform="matrix(1 0 0 1 1614 618)"/><use class="o" href="#r7" transform="matrix(1 0 6 1 1614 618)"/>
<use class="k" href="#r5" transform="matrix(1 0 -1 1 1646 650)"/><use class="k" href="#r5" transform="matrix(1 0 0 1 1614 650)"/><use class="p" href="#r6" transform="matrix(1 0 5 1 1614 650)"/>
<use class="k" href="#r4" transform="matrix(1 0 0 1 1646 682)"/><use class="k" href="#r4" transform="matrix(1 0 1 1 1614 682)"/><use class="p" href="#r5" transform="matrix(1 0 5 1 1614 682)"/>
<use class="k" href="#r3" transform="matrix(1 0 -.5 1 1678 714)"/><use class="k" href="#r3" transform="matrix(1 0 .5 1 1646 714)"/><use class="p" href="#r4" transform="matrix(1 0 4 1 1646 714)"/>
<use class="k" href="#r2" transform="matrix(1 0 -.5 1 1694 746)"/><use class="k" href="#r2" transform="matrix(1 0 .5 1 1662 746)"/><use class="p" href="#r3" transform="matrix(1 0 3.5 1 1662 746)"/>
<use class="k" href="#r1" transform="matrix(1 0 -.5 1 1710 778)"/><use class="k" href="#r1" transform="matrix(1 0 .5 1 1678 778)"/><use class="p" href="#r2" transform="matrix(1 0 3.25 1 1678 778)"/>
<use class="p" href="#r1" transform="matrix(1 0 3.25 1 1694 810)"/>
</g>
<g id="e8">
<use class="k" href="#r1" transform="matrix(1 0 -.5 1 2146 266)"/><use class="k" href="#r1" transform="matrix(1 0 .5 1 2146 266)"/><use class="l" href="#r1" transform="matrix(1 0 3 1 2146 266)"/>
<use class="k" href="#r2" transform="matrix(1 0 -.5 1 2130 298)"/><use class="k" href="#r2" transform="matrix(1 0 .5 1 2130 298)"/><use class="p" href="#r2" transform="matrix(1 0 3.5 1 2130 298)"/>
<use class="k" href="#r3" transform="matrix(1 0 -.5 1 2114 330)"/><use class="k" href="#r3" transform="matrix(1 0 .5 1 2114 330)"/><use class="p" href="#r2" transform="matrix(1 0 4 1 2114 330)"/><use class="p" href="#r1" transform="matrix(1 0 4.25 1 2178 330)"/>
<use class="k" href="#r4" transform="matrix(1 0 -.125 1 2098 362)"/><use class="k" href="#r4" transform="matrix(1 0 .875 1 2098 362)"/><use class="p" href="#r3" transform="matrix(1 0 4.875 1 2098 362)"/><use class="p" href="#r1" transform="matrix(1 0 5.375 1 2194 362)"/>
<use class="k" href="#r5" transform="matrix(1 0 0 1 2094 394)"/><use class="k" href="#r5" transform="matrix(1 0 1 1 2094 394)"/><use class="o" href="#r4" transform="matrix(1 0 6 1 2094 394)"/><use class="o" href="#r1" transform="matrix(1 0 6.5 1 2222 394)"/>
<use class="k" href="#r6" transform="matrix(1 0 0 1 2094 426)"/><use class="k" href="#r6" transform="matrix(1 0 1 1 2094 426)"/><use class="o" href="#r6" transform="matrix(1 0 7 1 2094 426)"/>
<use class="k" href="#r7" transform="matrix(1 0 -1 1 2094 458)"/><use class="k" href="#r7" transform="matrix(1 0 0 1 2094 458)"/><use class="o" href="#r7" transform="matrix(1 0 7 1 2094 458)"/>
<use class="l" href="#r8" transform="matrix(1 0 -2 1 2062 490)"/><use class="k" href="#r8" transform="matrix(1 0 -1 1 2062 490)"/><use class="o" href="#r8" transform="matrix(1 0 7 1 2062 490)"/>
<use class="l" href="#r9" transform="matrix(1 0 -2 1 1998 522)"/><use class="k" href="#r9" transform="matrix(1 0 -1 1 1998 522)"/><use class="o" href="#r9" transform="matrix(1 0 8 1 1998 522)"/>
<use class="l" href="#r9" transform="matrix(1 0 -3 1 1966 554)"/><use class="l" href="#r9" transform="matrix(1 0 -2 1 1934 554)"/><use class="o" href="#r10" transform="matrix(1 0 7 1 1934 554)"/>
<use class="l" href="#r8" transform="matrix(1 0 -2 1 1902 586)"/><use class="k" href="#r8" transform="matrix(1 0 -1 1 1870 586)"/><use class="o" href="#r8" transform="matrix(1 0 7 1 1870 586)"/><use class="o" href="#r1" transform="matrix(1 0 8 1 2126 586)"/>
<use class="l" href="#r7" transform="matrix(1 0 -2 1 1870 618)"/><use class="k" href="#r7" transform="matrix(1 0 -1 1 1838 618)"/><use class="o" href="#r7" transform="matrix(1 0 6 1 1838 618)"/><use class="o" href="#r1" transform="matrix(1 0 7 1 2062 618)"/>
<use class="l" href="#r6" transform="matrix(1 0 -2 1 1838 650)"/><use class="k" href="#r6" transform="matrix(1 0 -1 1 1806 650)"/><use class="p" href="#r6" transform="matrix(1 0 5 1 1806 650)"/><use class="o" href="#r1" transform="matrix(1 0 6 1 1998 650)"/>
<use class="k" href="#r5" transform="matrix(1 0 -1 1 1806 682)"/><use class="k" href="#r5" transform="matrix(1 0 0 1 1774 682)"/><use class="p" href="#r5" transform="matrix(1 0 5 1 1774 682)"/><use class="p" href="#r1" transform="matrix(1 0 5.5 1 1934 682)"/>
<use class="k" href="#r4" transform="matrix(1 0 -1 1 1806 714)"/><use class="k" href="#r4" transform="matrix(1 0 0 1 1774 714)"/><use class="p" href="#r4" transform="matrix(1 0 4 1 1774 714)"/><use class="p" href="#r1" transform="matrix(1 0 4.5 1 1902 714)"/>
<use class="k" href="#r3" transform="matrix(1 0 -1 1 1806 746)"/><use class="k" href="#r3" transform="matrix(1 0 0 1 1774 746)"/><use class="l" href="#r3" transform="matrix(1 0 3 1 1774 746)"/><use class="p" href="#r1" transform="matrix(1 0 3.5 1 1870 746)"/>
<use class="k" href="#r2" transform="matrix(1 0 -.75 1 1806 778)"/><use class="k" href="#r2" transform="matrix(1 0 .25 1 1774 778)"/><use class="l" href="#r2" transform="matrix(1 0 2.25 1 1774 778)"/><use class="l" href="#r1" transform="matrix(1 0 2.75 1 1838 778)"/>
<use class="k" href="#r1" transform="matrix(1 0 -.5 1 1814 810)"/><use class="k" href="#r1" transform="matrix(1 0 .5 1 1782 810)"/><use class="l" href="#r2" transform="matrix(1 0 2 1 1782 810)"/>
<use class="k" href="#r1" transform="matrix(1 0 1.5 1 1798 842)"/>
</g>
<g id="e9">
<use class="k" href="#r1" transform="matrix(1 0 0 1 2242 298)"/><use class="k" href="#r1" transform="matrix(1 0 1 1 2242 298)"/>
<use class="k" href="#r2" transform="matrix(1 0 0 1 2242 330)"/><use class="k" href="#r1" transform="matrix(1 0 1 1 2242 330)"/><use class="k" href="#r1" transform="matrix(1 0 1.25 1 2274 330)"/>
<use class="k" href="#r2" transform="matrix(1 0 .375 1 2242 362)"/><use class="k" href="#r1" transform="matrix(1 0 .125 1 2314 362)"/><use class="k" href="#r2" transform="matrix(1 0 1.375 1 2242 362)"/><use class="l" href="#r1" transform="matrix(1 0 1.625 1 2314 362)"/>
<use class="k" href="#r3" transform="matrix(1 0 1 1 2254 394)"/><use class="k" href="#r1" transform="matrix(1 0 .5 1 2366 394)"/><use class="l" href="#r3" transform="matrix(1 0 2 1 2254 394)"/><use class="l" href="#r1" transform="matrix(1 0 2 1 2366 394)"/>
<use class="k" href="#r4" transform="matrix(1 0 1 1 2286 426)"/><use class="k" href="#r1" transform="matrix(1 0 .5 1 2430 426)"/><use class="l" href="#r4" transform="matrix(1 0 2 1 2286 426)"/><use class="k" href="#r1" transform="matrix(1 0 1.5 1 2430 426)"/>
<use class="k" href="#r6" transform="matrix(1 0 0 1 2318 458)"/><use class="k" href="#r6" transform="matrix(1 0 1 1 2318 458)"/>
<use class="k" href="#r7" transform="matrix(1 0 -1 1 2318 490)"/><use class="k" href="#r7" transform="matrix(1 0 0 1 2318 490)"/>
<use class="k" href="#r8" transform="matrix(1 0 -1 1 2286 522)"/><use class="k" href="#r8" transform="matrix(1 0 0 1 2286 522)"/>
<use class="l" href="#r9" transform="matrix(1 0 -3 1 2254 554)"/><use class="l" href="#r9" transform="matrix(1 0 -2 1 2254 554)"/>
<use class="l" href="#r8" transform="matrix(1 0 -2 1 2158 586)"/><use class="k" href="#r1" transform="matrix(1 0 -1 1 2414 586)"/><use class="l" href="#r8" transform="matrix(1 0 -3 1 2190 586)"/><use class="l" href="#r1" transform="matrix(1 0 -2 1 2446 586)"/>
<use class="l" href="#r7" transform="matrix(1 0 -2 1 2094 618)"/><use class="k" href="#r1" transform="matrix(1 0 -1 1 2318 618)"/><use class="l" href="#r7" transform="matrix(1 0 -3 1 2126 618)"/><use class="l" href="#r1" transform="matrix(1 0 -3 1 2382 618)"/>
<use class="l" href="#r6" transform="matrix(1 0 -2 1 2030 650)"/><use class="k" href="#r1" transform="matrix(1 0 -1 1 2222 650)"/><use class="l" href="#r6" transform="matrix(1 0 -3 1 2062 650)"/><use class="l" href="#r1" transform="matrix(1 0 -3 1 2286 650)"/>
<use class="k" href="#r5" transform="matrix(1 0 -1 1 1966 682)"/><use class="k" href="#r1" transform="matrix(1 0 -.5 1 2126 682)"/><use class="l" href="#r5" transform="matrix(1 0 -2 1 1998 682)"/><use class="l" href="#r1" transform="matrix(1 0 -2.5 1 2190 682)"/>
<use class="k" href="#r4" transform="matrix(1 0 -1 1 1934 714)"/><use class="k" href="#r1" transform="matrix(1 0 -.5 1 2062 714)"/><use class="l" href="#r4" transform="matrix(1 0 -2 1 1966 714)"/><use class="l" href="#r1" transform="matrix(1 0 -2 1 2110 714)"/>
<use class="k" href="#r3" transform="matrix(1 0 -1 1 1902 746)"/><use class="k" href="#r1" transform="matrix(1 0 -.5 1 1998 746)"/><use class="l" href="#r3" transform="matrix(1 0 -2 1 1934 746)"/><use class="l" href="#r1" transform="matrix(1 0 -2 1 2046 746)"/>
<use class="k" href="#r2" transform="matrix(1 0 -.75 1 1870 778)"/><use class="k" href="#r1" transform="matrix(1 0 -.25 1 1934 778)"/><use class="l" href="#r2" transform="matrix(1 0 -1.75 1 1902 778)"/><use class="l" href="#r1" transform="matrix(1 0 -1.75 1 1982 778)"/>
<use class="k" href="#r2" transform="matrix(1 0 0 1 1846 810)"/><use class="k" href="#r1" transform="matrix(1 0 -1 1 1878 810)"/><use class="k" href="#r1" transform="matrix(1 0 -1.5 1 1926 810)"/>
<use class="k" href="#r1" transform="matrix(1 0 0 1 1846 842)"/><use class="k" href="#r1" transform="matrix(1 0 -1 1 1878 842)"/>
</g>
</g>
<g transform="translate(0 10)"><g id="n0" class="a" transform="translate(676)"><ellipse/><text>0</text></g></g>
<g transform="translate(0 42)"><g id="n1" class="a" transform="translate(644)"><ellipse/><text>1</text></g><g id="n10" class="b" transform="translate(676)"><ellipse/><text>10</text></g><g id="n100" class="c" transform="translate(716)"><ellipse/><text>100</text></g></g>
<g transform="translate(0 74)"><g id="n2" class="a" transform="translate(596)"><ellipse/><text>2</text></g><g id="n11" class="b" transform="translate(644)"><ellipse/><text>11</text></g><g id="n20" class="c" transform="translate(676)"><ellipse/><text>20</text></g><g id="n101" class="c" transform="translate(712)"><ellipse/><text>101</text></g><g id="n110" class="d" transform="translate(744)"><ellipse/><text>110</text></g><g id="n200" class="e" transform="translate(846)"><ellipse/><text>200</text></g></g>
<g transform="translate(0 106)"><g id="n3" class="a" transform="translate(542)"><ellipse/><text>3</text></g><g id="n12" class="b" transform="translate(590)"><ellipse/><text>12</text></g><g id="n21" class="c" transform="translate(622)"><ellipse/><text>21</text></g><g id="n30" class="d" transform="translate(654)"><ellipse/><text>30</text></g><g id="n102" class="c" transform="translate(686)"><ellipse/><text>102</text></g><g id="n111" class="d" transform="translate(718)"><ellipse/><text>111</text></g><g id="n120" class="e" transform="translate(750)"><ellipse/><text>120</text></g><g id="n201" class="e" transform="translate(830)"><ellipse/><text>201</text></g><g id="n210" class="f" transform="translate(862)"><ellipse/><text>210</text></g><g id="n300" class="g" transform="translate(1038)"><ellipse/><text>300</text></g></g>
<g transform="translate(0 138)"><g id="n4" class="a" transform="translate(478)"><ellipse/><text>4</text></g><g id="n13" class="b" transform="translate(526)"><ellipse/><text>13</text></g><g id="n22" class="c" transform="translate(558)"><ellipse/><text>22</text></g><g id="n31" class="d" transform="translate(590)"><ellipse/><text>31</text></g><g id="n40" class="e" transform="translate(622)"><ellipse/><text>40</text></g><g id="n103" class="c" transform="translate(654)"><ellipse/><text>103</text></g><g id="n112" class="d" transform="translate(686)"><ellipse/><text>112</text></g><g id="n121" class="e" transform="translate(718)"><ellipse/><text>121</text></g><g id="n130" class="f" transform="translate(750)"><ellipse/><text>130</text></g><g id="n202" class="e" transform="translate(814)"><ellipse/><text>202</text></g><g id="n211" class="f" transform="translate(846)"><ellipse/><text>211</text></g><g id="n220" class="g" transform="translate(878)"><ellipse/><text>220</text></g><g id="n301" class="g" transform="translate(1022)"><ellipse/><text>301</text></g><g id="n310" class="h" transform="translate(1054)"><ellipse/><text>310</text></g><g id="n400" class="a" transform="translate(1278)"><ellipse/><text>400</text></g></g>
<g transform="translate(0 170)"><g id="n5" class="a" transform="translate(414)"><ellipse/><text>5</text></g><g id="n14" class="b" transform="translate(462)"><ellipse/><text>14</text></g><g id="n23" class="c" transform="translate(494)"><ellipse/><text>23</text></g><g id="n32" class="d" transform="translate(526)"><ellipse/><text>32</text></g><g id="n41" class="e" transform="translate(558)"><ellipse/><text>41</text></g><g id="n50" class="f" transform="translate(590)"><ellipse/><text>50</text></g><g id="n104" class="c" transform="translate(622)"><ellipse/><text>104</text></g><g id="n113" class="d" transform="translate(654)"><ellipse/><text>113</text></g><g id="n122" class="e" transform="translate(686)"><ellipse/><text>122</text></g><g id="n131" class="f" transform="translate(718)"><ellipse/><text>131</text></g><g id="n140" class="g" transform="translate(750)"><ellipse/><text>140</text></g><g id="n203" class="e" transform="translate(798)"><ellipse/><text>203</text></g><g id="n212" class="f" transform="translate(830)"><ellipse/><text>212</text></g><g id="n221" class="g" transform="translate(862)"><ellipse/><text>221</text></g><g id="n230" class="h" transform="translate(894)"><ellipse/><text>230</text></g><g id="n302" class="g" transform="translate(1006)"><ellipse/><text>302</text></g><g id="n311" class="h" transform="translate(1038)"><ellipse/><text>311</text></g><g id="n320" class="a" transform="translate(1070)"><ellipse/><text>320</text></g><g id="n401" class="a" transform="translate(1262)"><ellipse/><text>401</text></g><g id="n410" class="b" transform="translate(1294)"><ellipse/><text>410</text></g><g id="n500" class="c" transform="translate(1542)"><ellipse/><text>500</text></g></g>
<g transform="translate(0 202)"><g id="n6" class="a" transform="translate(334)"><ellipse/><text>6</text></g><g id="n15" class="b" transform="translate(398)"><ellipse/><text>15</text></g><g id="n24" class="c" transform="translate(430)"><ellipse/><text>24</text></g><g id="n33" class="d" transform="translate(462)"><ellipse/><text>33</text></g><g id="n42" class="e" transform="translate(494)"><ellipse/><text>42</text></g><g id="n51" class="f" transform="translate(526)"><ellipse/><text>51</text></g><g id="n60" class="g" transform="translate(558)"><ellipse/><text>60</text></g><g id="n105" class="c" transform="translate(590)"><ellipse/><text>105</text></g><g id="n114" class="d" transform="translate(622)"><ellipse/><text>114</text></g><g id="n123" class="e" transform="translate(654)"><ellipse/><text>123</text></g><g id="n132" class="f" transform="translate(686)"><ellipse/><text>132</text></g><g id="n141" class="g" transform="translate(718)"><ellipse/><text>141</text></g><g id="n150" class="h" transform="translate(750)"><ellipse/><text>150</text></g><g id="n204" class="e" transform="translate(782)"><ellipse/><text>204</text></g><g id="n213" class="f" transform="translate(814)"><ellipse/><text>213</text></g><g id="n222" class="g" transform="translate(846)"><ellipse/><text>222</text></g><g id="n231" class="h" transform="translate(878)"><ellipse/><text>231</text></g><g id="n240" class="a" transform="translate(910)"><ellipse/><text>240</text></g><g id="n303" class="g" transform="translate(990)"><ellipse/><text>303</text></g><g id="n312" class="h" transform="translate(1022)"><ellipse/><text>312</text></g><g id="n321" class="a" transform="translate(1054)"><ellipse/><text>321</text></g><g id="n330" class="b" transform="translate(1086)"><ellipse/><text>330</text></g><g id="n402" class="a" transform="translate(1246)"><ellipse/><text>402</text></g><g id="n411" class="b" transform="translate(1278)"><ellipse/><text>411</text></g><g id="n420" class="c" transform="translate(1310)"><ellipse/><text>420</text></g><g id="n501" class="c" transform="translate(1526)"><ellipse/><text>501</text></g><g id="n510" class="d" transform="translate(1558)"><ellipse/><text>510</text></g><g id="n600" class="e" transform="translate(1702)"><ellipse/><text>600</text></g></g>
<g transform="translate(0 234)"><g id="n7" class="a" transform="translate(238)"><ellipse/><text>7</text></g><g id="n16" class="b" transform="translate(302)"><ellipse/><text>16</text></g><g id="n25" class="c" transform="translate(334)"><ellipse/><text>25</text></g><g id="n34" class="d" transform="translate(366)"><ellipse/><text>34</text></g><g id="n43" class="e" transform="translate(398)"><ellipse/><text>43</text></g><g id="n52" class="f" transform="translate(430)"><ellipse/><text>52</text></g><g id="n61" class="g" transform="translate(462)"><ellipse/><text>61</text></g><g id="n70" class="h" transform="translate(494)"><ellipse/><text>70</text></g><g id="n106" class="c" transform="translate(526)"><ellipse/><text>106</text></g><g id="n115" class="d" transform="translate(558)"><ellipse/><text>115</text></g><g id="n124" class="e" transform="translate(590)"><ellipse/><text>124</text></g><g id="n133" class="f" transform="translate(622)"><ellipse/><text>133</text></g><g id="n142" class="g" transform="translate(654)"><ellipse/><text>142</text></g><g id="n151" class="h" transform="translate(686)"><ellipse/><text>151</text></g><g id="n160" class="a" transform="translate(718)"><ellipse/><text>160</text></g><g id="n205" class="e" transform="translate(750)"><ellipse/><text>205</text></g><g id="n214" class="f" transform="translate(782)"><ellipse/><text>214</text></g><g id="n223" class="g" transform="translate(814)"><ellipse/><text>223</text></g><g id="n232" class="h" transform="translate(846)"><ellipse/><text>232</text></g><g id="n241" class="a" transform="translate(878)"><ellipse/><text>241</text></g><g id="n250" class="b" transform="translate(910)"><ellipse/><text>250</text></g><g id="n304" class="g" transform="translate(974)"><ellipse/><text>304</text></g><g id="n313" class="h" transform="translate(1006)"><ellipse/><text>313</text></g><g id="n322" class="a" transform="translate(1038)"><ellipse/><text>322</text></g><g id="n331" class="b" transform="translate(1070)"><ellipse/><text>331</text></g><g id="n340" class="c" transform="translate(1102)"><ellipse/><text>340</text></g><g id="n403" class="a" transform="translate(1230)"><ellipse/><text>403</text></g><g id="n412" class="b" transform="translate(1262)"><ellipse/><text>412</text></g><g id="n421" class="c" transform="translate(1294)"><ellipse/><text>421</text></g><g id="n430" class="d" transform="translate(1326)"><ellipse/><text>430</text></g><g id="n502" class="c" transform="translate(1510)"><ellipse/><text>502</text></g><g id="n511" class="d" transform="translate(1542)"><ellipse/><text>511</text></g><g id="n520" class="e" transform="translate(1574)"><ellipse/><text>520</text></g><g id="n601" class="e" transform="translate(1686)"><ellipse/><text>601</text></g><g id="n610" class="f" transform="translate(1718)"><ellipse/><text>610</text></g><g id="n700" class="g" transform="translate(1966)"><ellipse/><text>700</text></g></g>
<g transform="translate(0 266)"><g id="n8" class="a" transform="translate(142)"><ellipse/><text>8</text></g><g id="n17" class="b" transform="translate(206)"><ellipse/><text>17</text></g><g id="n26" class="c" transform="translate(238)"><ellipse/><text>26</text></g><g id="n35" class="d" transform="translate(270)"><ellipse/><text>35</text></g><g id="n44" class="e" transform="translate(302)"><ellipse/><text>44</text></g><g id="n53" class="f" transform="translate(334)"><ellipse/><text>53</text></g><g id="n62" class="g" transform="translate(366)"><ellipse/><text>62</text></g><g id="n71" class="h" transform="translate(398)"><ellipse/><text>71</text></g><g id="n80" class="a" transform="translate(430)"><ellipse/><text>80</text></g><g id="n107" class="c" transform="translate(462)"><ellipse/><text>107</text></g><g id="n116" class="d" transform="translate(494)"><ellipse/><text>116</text></g><g id="n125" class="e" transform="translate(526)"><ellipse/><text>125</text></g><g id="n134" class="f" transform="translate(558)"><ellipse/><text>134</text></g><g id="n143" class="g" transform="translate(590)"><ellipse/><text>143</text></g><g id="n152" class="h" transform="translate(622)"><ellipse/><text>152</text></g><g id="n161" class="a" transform="translate(654)"><ellipse/><text>161</text></g><g id="n170" class="b" transform="translate(686)"><ellipse/><text>170</text></g><g id="n206" class="e" transform="translate(718)"><ellipse/><text>206</text></g><g id="n215" class="f" transform="translate(750)"><ellipse/><text>215</text></g><g id="n224" class="g" transform="translate(782)"><ellipse/><text>224</text></g><g id="n233" class="h" transform="translate(814)"><ellipse/><text>233</text></g><g id="n242" class="a" transform="translate(846)"><ellipse/><text>242</text></g><g id="n251" class="b" transform="translate(878)"><ellipse/><text>251</text></g><g id="n260" class="c" transform="translate(910)"><ellipse/><text>260</text></g><g id="n305" class="g" transform="translate(958)"><ellipse/><text>305</text></g><g id="n314" class="h" transform="translate(990)"><ellipse/><text>314</text></g><g id="n323" class="a" transform="translate(1022)"><ellipse/><text>323</text></g><g id="n332" class="b" transform="translate(1054)"><ellipse/><text>332</text></g><g id="n341" class="c" transform="translate(1086)"><ellipse/><text>341</text></g><g id="n350" class="d" transform="translate(1118)"><ellipse/><text>350</text></g><g id="n404" class="a" transform="translate(1214)"><ellipse/><text>404</text></g><g id="n413" class="b" transform="translate(1246)"><ellipse/><text>413</text></g><g id="n422" class="c" transform="translate(1278)"><ellipse/><text>422</text></g><g id="n431" class="d" transform="translate(1310)"><ellipse/><text>431</text></g><g id="n440" class="e" transform="translate(1342)"><ellipse/><text>440</text></g><g id="n503" class="c" transform="translate(1494)"><ellipse/><text>503</text></g><g id="n512" class="d" transform="translate(1526)"><ellipse/><text>512</text></g><g id="n521" class="e" transform="translate(1558)"><ellipse/><text>521</text></g><g id="n530" class="f" transform="translate(1590)"><ellipse/><text>530</text></g><g id="n602" class="e" transform="translate(1670)"><ellipse/><text>602</text></g><g id="n611" class="f" transform="translate(1702)"><ellipse/><text>611</text></g><g id="n620" class="g" transform="translate(1734)"><ellipse/><text>620</text></g><g id="n701" class="g" transform="translate(1950)"><ellipse/><text>701</text></g><g id="n710" class="h" transform="translate(1982)"><ellipse/><text>710</text></g><g id="n800" class="a" transform="translate(2146)"><ellipse/><text>800</text></g></g>
<g transform="translate(0 298)"><g id="n9" class="a" transform="translate(78)"><ellipse/><text>9</text></g><g id="n18" class="b" transform="translate(110)"><ellipse/><text>18</text></g><g id="n27" class="c" transform="translate(142)"><ellipse/><text>27</text></g><g id="n36" class="d" transform="translate(174)"><ellipse/><text>36</text></g><g id="n45" class="e" transform="translate(206)"><ellipse/><text>45</text></g><g id="n54" class="f" transform="translate(238)"><ellipse/><text>54</text></g><g id="n63" class="g" transform="translate(270)"><ellipse/><text>63</text></g><g id="n72" class="h" transform="translate(302)"><ellipse/><text>72</text></g><g id="n81" class="a" transform="translate(334)"><ellipse/><text>81</text></g><g id="n90" class="b" transform="translate(366)"><ellipse/><text>90</text></g><g id="n108" class="c" transform="translate(398)"><ellipse/><text>108</text></g><g id="n117" class="d" transform="translate(430)"><ellipse/><text>117</text></g><g id="n126" class="e" transform="translate(462)"><ellipse/><text>126</text></g><g id="n135" class="f" transform="translate(494)"><ellipse/><text>135</text></g><g id="n144" class="g" transform="translate(526)"><ellipse/><text>144</text></g><g id="n153" class="h" transform="translate(558)"><ellipse/><text>153</text></g><g id="n162" class="a" transform="translate(590)"><ellipse/><text>162</text></g><g id="n171" class="b" transform="translate(622)"><ellipse/><text>171</text></g><g id="n180" class="c" transform="translate(654)"><ellipse/><text>180</text></g><g id="n207" class="e" transform="translate(686)"><ellipse/><text>207</text></g><g id="n216" class="f" transform="translate(718)"><ellipse/><text>216</text></g><g id="n225" class="g" transform="translate(750)"><ellipse/><text>225</text></g><g id="n234" class="h" transform="translate(782)"><ellipse/><text>234</text></g><g id="n243" class="a" transform="translate(814)"><ellipse/><text>243</text></g><g id="n252" class="b" transform="translate(846)"><ellipse/><text>252</text></g><g id="n261" class="c" transform="translate(878)"><ellipse/><text>261</text></g><g id="n270" class="d" transform="translate(910)"><ellipse/><text>270</text></g><g id="n306" class="g" transform="translate(942)"><ellipse/><text>306</text></g><g id="n315" class="h" transform="translate(974)"><ellipse/><text>315</text></g><g id="n324" class="a" transform="translate(1006)"><ellipse/><text>324</text></g><g id="n333" class="b" transform="translate(1038)"><ellipse/><text>333</text></g><g id="n342" class="c" transform="translate(1070)"><ellipse/><text>342</text></g><g id="n351" class="d" transform="translate(1102)"><ellipse/><text>351</text></g><g id="n360" class="e" transform="translate(1134)"><ellipse/><text>360</text></g><g id="n405" class="a" transform="translate(1198)"><ellipse/><text>405</text></g><g id="n414" class="b" transform="translate(1230)"><ellipse/><text>414</text></g><g id="n423" class="c" transform="translate(1262)"><ellipse/><text>423</text></g><g id="n432" class="d" transform="translate(1294)"><ellipse/><text>432</text></g><g id="n441" class="e" transform="translate(1326)"><ellipse/><text>441</text></g><g id="n450" class="f" transform="translate(1358)"><ellipse/><text>450</text></g><g id="n504" class="c" transform="translate(1478)"><ellipse/><text>504</text></g><g id="n513" class="d" transform="translate(1510)"><ellipse/><text>513</text></g><g id="n522" class="e" transform="translate(1542)"><ellipse/><text>522</text></g><g id="n531" class="f" transform="translate(1574)"><ellipse/><text>531</text></g><g id="n540" class="g" transform="translate(1606)"><ellipse/><text>540</text></g><g id="n603" class="e" transform="translate(1654)"><ellipse/><text>603</text></g><g id="n612" class="f" transform="translate(1686)"><ellipse/><text>612</text></g><g id="n621" class="g" transform="translate(1718)"><ellipse/><text>621</text></g><g id="n630" class="h" transform="translate(1750)"><ellipse/><text>630</text></g><g id="n702" class="g" transform="translate(1934)"><ellipse/><text>702</text></g><g id="n711" class="h" transform="translate(1966)"><ellipse/><text>711</text></g><g id="n720" class="a" transform="translate(1998)"><ellipse/><text>720</text></g><g id="n801" class="a" transform="translate(2130)"><ellipse/><text>801</text></g><g id="n810" class="b" transform="translate(2162)"><ellipse/><text>810</text></g><g id="n900" class="c" transform="translate(2242)"><ellipse/><text>900</text></g></g>
<g transform="translate(0 330)"><g id="n19" class="b" transform="translate(14)"><ellipse/><text>19</text></g><g id="n28" class="c" transform="translate(46)"><ellipse/><text>28</text></g><g id="n37" class="d" transform="translate(78)"><ellipse/><text>37</text></g><g id="n46" class="e" transform="translate(110)"><ellipse/><text>46</text></g><g id="n55" class="f" transform="translate(142)"><ellipse/><text>55</text></g><g id="n64" class="g" transform="translate(174)"><ellipse/><text>64</text></g><g id="n73" class="h" transform="translate(206)"><ellipse/><text>73</text></g><g id="n82" class="a" transform="translate(238)"><ellipse/><text>82</text></g><g id="n91" class="b" transform="translate(270)"><ellipse/><text>91</text></g><g id="n109" class="c" transform="translate(302)"><ellipse/><text>109</text></g><g id="n118" class="d" transform="translate(334)"><ellipse/><text>118</text></g><g id="n127" class="e" transform="translate(366)"><ellipse/><text>127</text></g><g id="n136" class="f" transform="translate(398)"><ellipse/><text>136</text></g><g id="n145" class="g" transform="translate(430)"><ellipse/><text>145</text></g><g id="n154" class="h" transform="translate(462)"><ellipse/><text>154</text></g><g id="n163" class="a" transform="translate(494)"><ellipse/><text>163</text></g><g id="n172" class="b" transform="translate(526)"><ellipse/><text>172</text></g><g id="n181" class="c" transform="translate(558)"><ellipse/><text>181</text></g><g id="n190" class="d" transform="translate(590)"><ellipse/><text>190</text></g><g id="n208" class="e" transform="translate(622)"><ellipse/><text>208</text></g><g id="n217" class="f" transform="translate(654)"><ellipse/><text>217</text></g><g id="n226" class="g" transform="translate(686)"><ellipse/><text>226</text></g><g id="n235" class="h" transform="translate(718)"><ellipse/><text>235</text></g><g id="n244" class="a" transform="translate(750)"><ellipse/><text>244</text></g><g id="n253" class="b" transform="translate(782)"><ellipse/><text>253</text></g><g id="n262" class="c" transform="translate(814)"><ellipse/><text>262</text></g><g id="n271" class="d" transform="translate(846)"><ellipse/><text>271</text></g><g id="n280" class="e" transform="translate(878)"><ellipse/><text>280</text></g><g id="n307" class="g" transform="translate(910)"><ellipse/><text>307</text></g><g id="n316" class="h" transform="translate(942)"><ellipse/><text>316</text></g><g id="n325" class="a" transform="translate(974)"><ellipse/><text>325</text></g><g id="n334" class="b" transform="translate(1006)"><ellipse/><text>334</text></g><g id="n343" class="c" transform="translate(1038)"><ellipse/><text>343</text></g><g id="n352" class="d" transform="translate(1070)"><ellipse/><text>352</text></g><g id="n361" class="e" transform="translate(1102)"><ellipse/><text>361</text></g><g id="n370" class="f" transform="translate(1134)"><ellipse/><text>370</text></g><g id="n406" class="a" transform="translate(1182)"><ellipse/><text>406</text></g><g id="n415" class="b" transform="translate(1214)"><ellipse/><text>415</text></g><g id="n424" class="c" transform="translate(1246)"><ellipse/><text>424</text></g><g id="n433" class="d" transform="translate(1278)"><ellipse/><text>433</text></g><g id="n442" class="e" transform="translate(1310)"><ellipse/><text>442</text></g><g id="n451" class="f" transform="translate(1342)"><ellipse/><text>451</text></g><g id="n460" class="g" transform="translate(1374)"><ellipse/><text>460</text></g><g id="n505" class="c" transform="translate(1454)"><ellipse/><text>505</text></g><g id="n514" class="d" transform="translate(1486)"><ellipse/><text>514</text></g><g id="n523" class="e" transform="translate(1518)"><ellipse/><text>523</text></g><g id="n532" class="f" transform="translate(1550)"><ellipse/><text>532</text></g><g id="n541" class="g" transform="translate(1582)"><ellipse/><text>541</text></g><g id="n550" class="h" transform="translate(1614)"><ellipse/><text>550</text></g><g id="n604" class="e" transform="translate(1652)"><ellipse/><text>604</text></g><g id="n613" class="f" transform="translate(1684)"><ellipse/><text>613</text></g><g id="n622" class="g" transform="translate(1716)"><ellipse/><text>622</text></g><g id="n631" class="h" transform="translate(1748)"><ellipse/><text>631</text></g><g id="n640" class="a" transform="translate(1780)"><ellipse/><text>640</text></g><g id="n703" class="g" transform="translate(1918)"><ellipse/><text>703</text></g><g id="n712" class="h" transform="translate(1950)"><ellipse/><text>712</text></g><g id="n721" class="a" transform="translate(1982)"><ellipse/><text>721</text></g><g id="n730" class="b" transform="translate(2014)"><ellipse/><text>730</text></g><g id="n802" class="a" transform="translate(2114)"><ellipse/><text>802</text></g><g id="n811" class="b" transform="translate(2146)"><ellipse/><text>811</text></g><g id="n820" class="c" transform="translate(2178)"><ellipse/><text>820</text></g><g id="n901" class="c" transform="translate(2242)"><ellipse/><text>901</text></g><g id="n910" class="d" transform="translate(2274)"><ellipse/><text>910</text></g></g>
<g transform="translate(0 362)"><g id="n29" class="c" transform="translate(14)"><ellipse/><text>29</text></g><g id="n38" class="d" transform="translate(46)"><ellipse/><text>38</text></g><g id="n47" class="e" transform="translate(78)"><ellipse/><text>47</text></g><g id="n56" class="f" transform="translate(110)"><ellipse/><text>56</text></g><g id="n65" class="g" transform="translate(142)"><ellipse/><text>65</text></g><g id="n74" class="h" transform="translate(174)"><ellipse/><text>74</text></g><g id="n83" class="a" transform="translate(206)"><ellipse/><text>83</text></g><g id="n92" class="b" transform="translate(238)"><ellipse/><text>92</text></g><g id="n119" class="d" transform="translate(270)"><ellipse/><text>119</text></g><g id="n128" class="e" transform="translate(302)"><ellipse/><text>128</text></g><g id="n137" class="f" transform="translate(334)"><ellipse/><text>137</text></g><g id="n146" class="g" transform="translate(366)"><ellipse/><text>146</text></g><g id="n155" class="h" transform="translate(398)"><ellipse/><text>155</text></g><g id="n164" class="a" transform="translate(430)"><ellipse/><text>164</text></g><g id="n173" class="b" transform="translate(462)"><ellipse/><text>173</text></g><g id="n182" class="c" transform="translate(494)"><ellipse/><text>182</text></g><g id="n191" class="d" transform="translate(526)"><ellipse/><text>191</text></g><g id="n209" class="e" transform="translate(558)"><ellipse/><text>209</text></g><g id="n218" class="f" transform="translate(590)"><ellipse/><text>218</text></g><g id="n227" class="g" transform="translate(622)"><ellipse/><text>227</text></g><g id="n236" class="h" transform="translate(654)"><ellipse/><text>236</text></g><g id="n245" class="a" transform="translate(686)"><ellipse/><text>245</text></g><g id="n254" class="b" transform="translate(718)"><ellipse/><text>254</text></g><g id="n263" class="c" transform="translate(750)"><ellipse/><text>263</text></g><g id="n272" class="d" transform="translate(782)"><ellipse/><text>272</text></g><g id="n281" class="e" transform="translate(814)"><ellipse/><text>281</text></g><g id="n290" class="f" transform="translate(846)"><ellipse/><text>290</text></g><g id="n308" class="g" transform="translate(878)"><ellipse/><text>308</text></g><g id="n317" class="h" transform="translate(910)"><ellipse/><text>317</text></g><g id="n326" class="a" transform="translate(942)"><ellipse/><text>326</text></g><g id="n335" class="b" transform="translate(974)"><ellipse/><text>335</text></g><g id="n344" class="c" transform="translate(1006)"><ellipse/><text>344</text></g><g id="n353" class="d" transform="translate(1038)"><ellipse/><text>353</text></g><g id="n362" class="e" transform="translate(1070)"><ellipse/><text>362</text></g><g id="n371" class="f" transform="translate(1102)"><ellipse/><text>371</text></g><g id="n380" class="g" transform="translate(1134)"><ellipse/><text>380</text></g><g id="n407" class="a" transform="translate(1166)"><ellipse/><text>407</text></g><g id="n416" class="b" transform="translate(1198)"><ellipse/><text>416</text></g><g id="n425" class="c" transform="translate(1230)"><ellipse/><text>425</text></g><g id="n434" class="d" transform="translate(1262)"><ellipse/><text>434</text></g><g id="n443" class="e" transform="translate(1294)"><ellipse/><text>443</text></g><g id="n452" class="f" transform="translate(1326)"><ellipse/><text>452</text></g><g id="n461" class="g" transform="translate(1358)"><ellipse/><text>461</text></g><g id="n470" class="h" transform="translate(1390)"><ellipse/><text>470</text></g><g id="n506" class="c" transform="translate(1422)"><ellipse/><text>506</text></g><g id="n515" class="d" transform="translate(1454)"><ellipse/><text>515</text></g><g id="n524" class="e" transform="translate(1486)"><ellipse/><text>524</text></g><g id="n533" class="f" transform="translate(1518)"><ellipse/><text>533</text></g><g id="n542" class="g" transform="translate(1550)"><ellipse/><text>542</text></g><g id="n551" class="h" transform="translate(1582)"><ellipse/><text>551</text></g><g id="n560" class="a" transform="translate(1614)"><ellipse/><text>560</text></g><g id="n605" class="e" transform="translate(1647)"><ellipse/><text>605</text></g><g id="n614" class="f" transform="translate(1679)"><ellipse/><text>614</text></g><g id="n623" class="g" transform="translate(1711)"><ellipse/><text>623</text></g><g id="n632" class="h" transform="translate(1743)"><ellipse/><text>632</text></g><g id="n641" class="a" transform="translate(1775)"><ellipse/><text>641</text></g><g id="n650" class="b" transform="translate(1807)"><ellipse/><text>650</text></g><g id="n704" class="g" transform="translate(1902)"><ellipse/><text>704</text></g><g id="n713" class="h" transform="translate(1934)"><ellipse/><text>713</text></g><g id="n722" class="a" transform="translate(1966)"><ellipse/><text>722</text></g><g id="n731" class="b" transform="translate(1998)"><ellipse/><text>731</text></g><g id="n740" class="c" transform="translate(2030)"><ellipse/><text>740</text></g><g id="n803" class="a" transform="translate(2098)"><ellipse/><text>803</text></g><g id="n812" class="b" transform="translate(2130)"><ellipse/><text>812</text></g><g id="n821" class="c" transform="translate(2162)"><ellipse/><text>821</text></g><g id="n830" class="d" transform="translate(2194)"><ellipse/><text>830</text></g><g id="n902" class="c" transform="translate(2242)"><ellipse/><text>902</text></g><g id="n911" class="d" transform="translate(2274)"><ellipse/><text>911</text></g><g id="n920" class="e" transform="translate(2314)"><ellipse/><text>920</text></g></g>
<g transform="translate(0 394)"><g id="n39" class="d" transform="translate(14)"><ellipse/><text>39</text></g><g id="n48" class="e" transform="translate(46)"><ellipse/><text>48</text></g><g id="n57" class="f" transform="translate(78)"><ellipse/><text>57</text></g><g id="n66" class="g" transform="translate(110)"><ellipse/><text>66</text></g><g id="n75" class="h" transform="translate(142)"><ellipse/><text>75</text></g><g id="n84" class="a" transform="translate(174)"><ellipse/><text>84</text></g><g id="n93" class="b" transform="translate(206)"><ellipse/><text>93</text></g><g id="n129" class="e" transform="translate(238)"><ellipse/><text>129</text></g><g id="n138" class="f" transform="translate(270)"><ellipse/><text>138</text></g><g id="n147" class="g" transform="translate(302)"><ellipse/><text>147</text></g><g id="n156" class="h" transform="translate(334)"><ellipse/><text>156</text></g><g id="n165" class="a" transform="translate(366)"><ellipse/><text>165</text></g><g id="n174" class="b" transform="translate(398)"><ellipse/><text>174</text></g><g id="n183" class="c" transform="translate(430)"><ellipse/><text>183</text></g><g id="n192" class="d" transform="translate(462)"><ellipse/><text>192</text></g><g id="n219" class="f" transform="translate(494)"><ellipse/><text>219</text></g><g id="n228" class="g" transform="translate(526)"><ellipse/><text>228</text></g><g id="n237" class="h" transform="translate(558)"><ellipse/><text>237</text></g><g id="n246" class="a" transform="translate(590)"><ellipse/><text>246</text></g><g id="n255" class="b" transform="translate(622)"><ellipse/><text>255</text></g><g id="n264" class="c" transform="translate(654)"><ellipse/><text>264</text></g><g id="n273" class="d" transform="translate(686)"><ellipse/><text>273</text></g><g id="n282" class="e" transform="translate(718)"><ellipse/><text>282</text></g><g id="n291" class="f" transform="translate(750)"><ellipse/><text>291</text></g><g id="n309" class="g" transform="translate(782)"><ellipse/><text>309</text></g><g id="n318" class="h" transform="translate(814)"><ellipse/><text>318</text></g><g id="n327" class="a" transform="translate(846)"><ellipse/><text>327</text></g><g id="n336" class="b" transform="translate(878)"><ellipse/><text>336</text></g><g id="n345" class="c" transform="translate(910)"><ellipse/><text>345</text></g><g id="n354" class="d" transform="translate(942)"><ellipse/><text>354</text></g><g id="n363" class="e" transform="translate(974)"><ellipse/><text>363</text></g><g id="n372" class="f" transform="translate(1006)"><ellipse/><text>372</text></g><g id="n381" class="g" transform="translate(1038)"><ellipse/><text>381</text></g><g id="n390" class="h" transform="translate(1070)"><ellipse/><text>390</text></g><g id="n408" class="a" transform="translate(1102)"><ellipse/><text>408</text></g><g id="n417" class="b" transform="translate(1134)"><ellipse/><text>417</text></g><g id="n426" class="c" transform="translate(1166)"><ellipse/><text>426</text></g><g id="n435" class="d" transform="translate(1198)"><ellipse/><text>435</text></g><g id="n444" class="e" transform="translate(1230)"><ellipse/><text>444</text></g><g id="n453" class="f" transform="translate(1262)"><ellipse/><text>453</text></g><g id="n462" class="g" transform="translate(1294)"><ellipse/><text>462</text></g><g id="n471" class="h" transform="translate(1326)"><ellipse/><text>471</text></g><g id="n480" class="a" transform="translate(1358)"><ellipse/><text>480</text></g><g id="n507" class="c" transform="translate(1390)"><ellipse/><text>507</text></g><g id="n516" class="d" transform="translate(1422)"><ellipse/><text>516</text></g><g id="n525" class="e" transform="translate(1454)"><ellipse/><text>525</text></g><g id="n534" class="f" transform="translate(1486)"><ellipse/><text>534</text></g><g id="n543" class="g" transform="translate(1518)"><ellipse/><text>543</text></g><g id="n552" class="h" transform="translate(1550)"><ellipse/><text>552</text></g><g id="n561" class="a" transform="translate(1582)"><ellipse/><text>561</text></g><g id="n570" class="b" transform="translate(1614)"><ellipse/><text>570</text></g><g id="n606" class="e" transform="translate(1646)"><ellipse/><text>606</text></g><g id="n615" class="f" transform="translate(1678)"><ellipse/><text>615</text></g><g id="n624" class="g" transform="translate(1710)"><ellipse/><text>624</text></g><g id="n633" class="h" transform="translate(1742)"><ellipse/><text>633</text></g><g id="n642" class="a" transform="translate(1774)"><ellipse/><text>642</text></g><g id="n651" class="b" transform="translate(1806)"><ellipse/><text>651</text></g><g id="n660" class="c" transform="translate(1838)"><ellipse/><text>660</text></g><g id="n705" class="g" transform="translate(1886)"><ellipse/><text>705</text></g><g id="n714" class="h" transform="translate(1918)"><ellipse/><text>714</text></g><g id="n723" class="a" transform="translate(1950)"><ellipse/><text>723</text></g><g id="n732" class="b" transform="translate(1982)"><ellipse/><text>732</text></g><g id="n741" class="c" transform="translate(2014)"><ellipse/><text>741</text></g><g id="n750" class="d" transform="translate(2046)"><ellipse/><text>750</text></g><g id="n804" class="a" transform="translate(2094)"><ellipse/><text>804</text></g><g id="n813" class="b" transform="translate(2126)"><ellipse/><text>813</text></g><g id="n822" class="c" transform="translate(2158)"><ellipse/><text>822</text></g><g id="n831" class="d" transform="translate(2190)"><ellipse/><text>831</text></g><g id="n840" class="e" transform="translate(2222)"><ellipse/><text>840</text></g><g id="n903" class="c" transform="translate(2254)"><ellipse/><text>903</text></g><g id="n912" class="d" transform="translate(2286)"><ellipse/><text>912</text></g><g id="n921" class="e" transform="translate(2318)"><ellipse/><text>921</text></g><g id="n930" class="f" transform="translate(2366)"><ellipse/><text>930</text></g></g>
<g transform="translate(0 426)"><g id="n49" class="e" transform="translate(46)"><ellipse/><text>49</text></g><g id="n58" class="f" transform="translate(78)"><ellipse/><text>58</text></g><g id="n67" class="g" transform="translate(110)"><ellipse/><text>67</text></g><g id="n76" class="h" transform="translate(142)"><ellipse/><text>76</text></g><g id="n85" class="a" transform="translate(174)"><ellipse/><text>85</text></g><g id="n94" class="b" transform="translate(206)"><ellipse/><text>94</text></g><g id="n139" class="f" transform="translate(238)"><ellipse/><text>139</text></g><g id="n148" class="g" transform="translate(270)"><ellipse/><text>148</text></g><g id="n157" class="h" transform="translate(302)"><ellipse/><text>157</text></g><g id="n166" class="a" transform="translate(334)"><ellipse/><text>166</text></g><g id="n175" class="b" transform="translate(366)"><ellipse/><text>175</text></g><g id="n184" class="c" transform="translate(398)"><ellipse/><text>184</text></g><g id="n193" class="d" transform="translate(430)"><ellipse/><text>193</text></g><g id="n229" class="g" transform="translate(462)"><ellipse/><text>229</text></g><g id="n238" class="h" transform="translate(494)"><ellipse/><text>238</text></g><g id="n247" class="a" transform="translate(526)"><ellipse/><text>247</text></g><g id="n256" class="b" transform="translate(558)"><ellipse/><text>256</text></g><g id="n265" class="c" transform="translate(590)"><ellipse/><text>265</text></g><g id="n274" class="d" transform="translate(622)"><ellipse/><text>274</text></g><g id="n283" class="e" transform="translate(654)"><ellipse/><text>283</text></g><g id="n292" class="f" transform="translate(686)"><ellipse/><text>292</text></g><g id="n319" class="h" transform="translate(718)"><ellipse/><text>319</text></g><g id="n328" class="a" transform="translate(750)"><ellipse/><text>328</text></g><g id="n337" class="b" transform="translate(782)"><ellipse/><text>337</text></g><g id="n346" class="c" transform="translate(814)"><ellipse/><text>346</text></g><g id="n355" class="d" transform="translate(846)"><ellipse/><text>355</text></g><g id="n364" class="e" transform="translate(878)"><ellipse/><text>364</text></g><g id="n373" class="f" transform="translate(910)"><ellipse/><text>373</text></g><g id="n382" class="g" transform="translate(942)"><ellipse/><text>382</text></g><g id="n391" class="h" transform="translate(974)"><ellipse/><text>391</text></g><g id="n409" class="a" transform="translate(1006)"><ellipse/><text>409</text></g><g id="n418" class="b" transform="translate(1038)"><ellipse/><text>418</text></g><g id="n427" class="c" transform="translate(1070)"><ellipse/><text>427</text></g><g id="n436" class="d" transform="translate(1102)"><ellipse/><text>436</text></g><g id="n445" class="e" transform="translate(1134)"><ellipse/><text>445</text></g><g id="n454" class="f" transform="translate(1166)"><ellipse/><text>454</text></g><g id="n463" class="g" transform="translate(1198)"><ellipse/><text>463</text></g><g id="n472" class="h" transform="translate(1230)"><ellipse/><text>472</text></g><g id="n481" class="a" transform="translate(1262)"><ellipse/><text>481</text></g><g id="n490" class="b" transform="translate(1294)"><ellipse/><text>490</text></g><g id="n508" class="c" transform="translate(1326)"><ellipse/><text>508</text></g><g id="n517" class="d" transform="translate(1358)"><ellipse/><text>517</text></g><g id="n526" class="e" transform="translate(1390)"><ellipse/><text>526</text></g><g id="n535" class="f" transform="translate(1422)"><ellipse/><text>535</text></g><g id="n544" class="g" transform="translate(1454)"><ellipse/><text>544</text></g><g id="n553" class="h" transform="translate(1486)"><ellipse/><text>553</text></g><g id="n562" class="a" transform="translate(1518)"><ellipse/><text>562</text></g><g id="n571" class="b" transform="translate(1550)"><ellipse/><text>571</text></g><g id="n580" class="c" transform="translate(1582)"><ellipse/><text>580</text></g><g id="n607" class="e" transform="translate(1614)"><ellipse/><text>607</text></g><g id="n616" class="f" transform="translate(1646)"><ellipse/><text>616</text></g><g id="n625" class="g" transform="translate(1678)"><ellipse/><text>625</text></g><g id="n634" class="h" transform="translate(1710)"><ellipse/><text>634</text></g><g id="n643" class="a" transform="translate(1742)"><ellipse/><text>643</text></g><g id="n652" class="b" transform="translate(1774)"><ellipse/><text>652</text></g><g id="n661" class="c" transform="translate(1806)"><ellipse/><text>661</text></g><g id="n670" class="d" transform="translate(1838)"><ellipse/><text>670</text></g><g id="n706" class="g" transform="translate(1870)"><ellipse/><text>706</text></g><g id="n715" class="h" transform="translate(1902)"><ellipse/><text>715</text></g><g id="n724" class="a" transform="translate(1934)"><ellipse/><text>724</text></g><g id="n733" class="b" transform="translate(1966)"><ellipse/><text>733</text></g><g id="n742" class="c" transform="translate(1998)"><ellipse/><text>742</text></g><g id="n751" class="d" transform="translate(2030)"><ellipse/><text>751</text></g><g id="n760" class="e" transform="translate(2062)"><ellipse/><text>760</text></g><g id="n805" class="a" transform="translate(2094)"><ellipse/><text>805</text></g><g id="n814" class="b" transform="translate(2126)"><ellipse/><text>814</text></g><g id="n823" class="c" transform="translate(2158)"><ellipse/><text>823</text></g><g id="n832" class="d" transform="translate(2190)"><ellipse/><text>832</text></g><g id="n841" class="e" transform="translate(2222)"><ellipse/><text>841</text></g><g id="n850" class="f" transform="translate(2254)"><ellipse/><text>850</text></g><g id="n904" class="c" transform="translate(2286)"><ellipse/><text>904</text></g><g id="n913" class="d" transform="translate(2318)"><ellipse/><text>913</text></g><g id="n922" class="e" transform="translate(2350)"><ellipse/><text>922</text></g><g id="n931" class="f" transform="translate(2382)"><ellipse/><text>931</text></g><g id="n940" class="g" transform="translate(2430)"><ellipse/><text>940</text></g></g>
<g transform="translate(0 458)"><g id="n59" class="f" transform="translate(94)"><ellipse/><text>59</text></g><g id="n68" class="g" transform="translate(142)"><ellipse/><text>68</text></g><g id="n77" class="h" transform="translate(174)"><ellipse/><text>77</text></g><g id="n86" class="a" transform="translate(206)"><ellipse/><text>86</text></g><g id="n95" class="b" transform="translate(238)"><ellipse/><text>95</text></g><g id="n149" class="g" transform="translate(270)"><ellipse/><text>149</text></g><g id="n158" class="h" transform="translate(302)"><ellipse/><text>158</text></g><g id="n167" class="a" transform="translate(334)"><ellipse/><text>167</text></g><g id="n176" class="b" transform="translate(366)"><ellipse/><text>176</text></g><g id="n185" class="c" transform="translate(398)"><ellipse/><text>185</text></g><g id="n194" class="d" transform="translate(430)"><ellipse/><text>194</text></g><g id="n239" class="h" transform="translate(462)"><ellipse/><text>239</text></g><g id="n248" class="a" transform="translate(494)"><ellipse/><text>248</text></g><g id="n257" class="b" transform="translate(526)"><ellipse/><text>257</text></g><g id="n266" class="c" transform="translate(558)"><ellipse/><text>266</text></g><g id="n275" class="d" transform="translate(590)"><ellipse/><text>275</text></g><g id="n284" class="e" transform="translate(622)"><ellipse/><text>284</text></g><g id="n293" class="f" transform="translate(654)"><ellipse/><text>293</text></g><g id="n329" class="a" transform="translate(686)"><ellipse/><text>329</text></g><g id="n338" class="b" transform="translate(718)"><ellipse/><text>338</text></g><g id="n347" class="c" transform="translate(750)"><ellipse/><text>347</text></g><g id="n356" class="d" transform="translate(782)"><ellipse/><text>356</text></g><g id="n365" class="e" transform="translate(814)"><ellipse/><text>365</text></g><g id="n374" class="f" transform="translate(846)"><ellipse/><text>374</text></g><g id="n383" class="g" transform="translate(878)"><ellipse/><text>383</text></g><g id="n392" class="h" transform="translate(910)"><ellipse/><text>392</text></g><g id="n419" class="b" transform="translate(942)"><ellipse/><text>419</text></g><g id="n428" class="c" transform="translate(974)"><ellipse/><text>428</text></g><g id="n437" class="d" transform="translate(1006)"><ellipse/><text>437</text></g><g id="n446" class="e" transform="translate(1038)"><ellipse/><text>446</text></g><g id="n455" class="f" transform="translate(1070)"><ellipse/><text>455</text></g><g id="n464" class="g" transform="translate(1102)"><ellipse/><text>464</text></g><g id="n473" class="h" transform="translate(1134)"><ellipse/><text>473</text></g><g id="n482" class="a" transform="translate(1166)"><ellipse/><text>482</text></g><g id="n491" class="b" transform="translate(1198)"><ellipse/><text>491</text></g><g id="n509" class="c" transform="translate(1230)"><ellipse/><text>509</text></g><g id="n518" class="d" transform="translate(1262)"><ellipse/><text>518</text></g><g id="n527" class="e" transform="translate(1294)"><ellipse/><text>527</text></g><g id="n536" class="f" transform="translate(1326)"><ellipse/><text>536</text></g><g id="n545" class="g" transform="translate(1358)"><ellipse/><text>545</text></g><g id="n554" class="h" transform="translate(1390)"><ellipse/><text>554</text></g><g id="n563" class="a" transform="translate(1422)"><ellipse/><text>563</text></g><g id="n572" class="b" transform="translate(1454)"><ellipse/><text>572</text></g><g id="n581" class="c" transform="translate(1486)"><ellipse/><text>581</text></g><g id="n590" class="d" transform="translate(1518)"><ellipse/><text>590</text></g><g id="n608" class="e" transform="translate(1550)"><ellipse/><text>608</text></g><g id="n617" class="f" transform="translate(1582)"><ellipse/><text>617</text></g><g id="n626" class="g" transform="translate(1614)"><ellipse/><text>626</text></g><g id="n635" class="h" transform="translate(1646)"><ellipse/><text>635</text></g><g id="n644" class="a" transform="translate(1678)"><ellipse/><text>644</text></g><g id="n653" class="b" transform="translate(1710)"><ellipse/><text>653</text></g><g id="n662" class="c" transform="translate(1742)"><ellipse/><text>662</text></g><g id="n671" class="d" transform="translate(1774)"><ellipse/><text>671</text></g><g id="n680" class="e" transform="translate(1806)"><ellipse/><text>680</text></g><g id="n707" class="g" transform="translate(1838)"><ellipse/><text>707</text></g><g id="n716" class="h" transform="translate(1870)"><ellipse/><text>716</text></g><g id="n725" class="a" transform="translate(1902)"><ellipse/><text>725</text></g><g id="n734" class="b" transform="translate(1934)"><ellipse/><text>734</text></g><g id="n743" class="c" transform="translate(1966)"><ellipse/><text>743</text></g><g id="n752" class="d" transform="translate(1998)"><ellipse/><text>752</text></g><g id="n761" class="e" transform="translate(2030)"><ellipse/><text>761</text></g><g id="n770" class="f" transform="translate(2062)"><ellipse/><text>770</text></g><g id="n806" class="a" transform="translate(2094)"><ellipse/><text>806</text></g><g id="n815" class="b" transform="translate(2126)"><ellipse/><text>815</text></g><g id="n824" class="c" transform="translate(2158)"><ellipse/><text>824</text></g><g id="n833" class="d" transform="translate(2190)"><ellipse/><text>833</text></g><g id="n842" class="e" transform="translate(2222)"><ellipse/><text>842</text></g><g id="n851" class="f" transform="translate(2254)"><ellipse/><text>851</text></g><g id="n860" class="g" transform="translate(2286)"><ellipse/><text>860</text></g><g id="n905" class="c" transform="translate(2318)"><ellipse/><text>905</text></g><g id="n914" class="d" transform="translate(2350)"><ellipse/><text>914</text></g><g id="n923" class="e" transform="translate(2382)"><ellipse/><text>923</text></g><g id="n932" class="f" transform="translate(2414)"><ellipse/><text>932</text></g><g id="n941" class="g" transform="translate(2446)"><ellipse/><text>941</text></g><g id="n950" class="h" transform="translate(2478)"><ellipse/><text>950</text></g></g>
<g transform="translate(0 490)"><g id="n69" class="g" transform="translate(158)"><ellipse/><text>69</text></g><g id="n78" class="h" transform="translate(206)"><ellipse/><text>78</text></g><g id="n87" class="a" transform="translate(238)"><ellipse/><text>87</text></g><g id="n96" class="b" transform="translate(270)"><ellipse/><text>96</text></g><g id="n159" class="h" transform="translate(302)"><ellipse/><text>159</text></g><g id="n168" class="a" transform="translate(334)"><ellipse/><text>168</text></g><g id="n177" class="b" transform="translate(366)"><ellipse/><text>177</text></g><g id="n186" class="c" transform="translate(398)"><ellipse/><text>186</text></g><g id="n195" class="d" transform="translate(430)"><ellipse/><text>195</text></g><g id="n249" class="a" transform="translate(478)"><ellipse/><text>249</text></g><g id="n258" class="b" transform="translate(510)"><ellipse/><text>258</text></g><g id="n267" class="c" transform="translate(542)"><ellipse/><text>267</text></g><g id="n276" class="d" transform="translate(574)"><ellipse/><text>276</text></g><g id="n285" class="e" transform="translate(606)"><ellipse/><text>285</text></g><g id="n294" class="f" transform="translate(638)"><ellipse/><text>294</text></g><g id="n339" class="b" transform="translate(686)"><ellipse/><text>339</text></g><g id="n348" class="c" transform="translate(718)"><ellipse/><text>348</text></g><g id="n357" class="d" transform="translate(750)"><ellipse/><text>357</text></g><g id="n366" class="e" transform="translate(782)"><ellipse/><text>366</text></g><g id="n375" class="f" transform="translate(814)"><ellipse/><text>375</text></g><g id="n384" class="g" transform="translate(846)"><ellipse/><text>384</text></g><g id="n393" class="h" transform="translate(878)"><ellipse/><text>393</text></g><g id="n429" class="c" transform="translate(910)"><ellipse/><text>429</text></g><g id="n438" class="d" transform="translate(942)"><ellipse/><text>438</text></g><g id="n447" class="e" transform="translate(974)"><ellipse/><text>447</text></g><g id="n456" class="f" transform="translate(1006)"><ellipse/><text>456</text></g><g id="n465" class="g" transform="translate(1038)"><ellipse/><text>465</text></g><g id="n474" class="h" transform="translate(1070)"><ellipse/><text>474</text></g><g id="n483" class="a" transform="translate(1102)"><ellipse/><text>483</text></g><g id="n492" class="b" transform="translate(1134)"><ellipse/><text>492</text></g><g id="n519" class="d" transform="translate(1166)"><ellipse/><text>519</text></g><g id="n528" class="e" transform="translate(1198)"><ellipse/><text>528</text></g><g id="n537" class="f" transform="translate(1230)"><ellipse/><text>537</text></g><g id="n546" class="g" transform="translate(1262)"><ellipse/><text>546</text></g><g id="n555" class="h" transform="translate(1294)"><ellipse/><text>555</text></g><g id="n564" class="a" transform="translate(1326)"><ellipse/><text>564</text></g><g id="n573" class="b" transform="translate(1358)"><ellipse/><text>573</text></g><g id="n582" class="c" transform="translate(1390)"><ellipse/><text>582</text></g><g id="n591" class="d" transform="translate(1422)"><ellipse/><text>591</text></g><g id="n609" class="e" transform="translate(1454)"><ellipse/><text>609</text></g><g id="n618" class="f" transform="translate(1486)"><ellipse/><text>618</text></g><g id="n627" class="g" transform="translate(1518)"><ellipse/><text>627</text></g><g id="n636" class="h" transform="translate(1550)"><ellipse/><text>636</text></g><g id="n645" class="a" transform="translate(1582)"><ellipse/><text>645</text></g><g id="n654" class="b" transform="translate(1614)"><ellipse/><text>654</text></g><g id="n663" class="c" transform="translate(1646)"><ellipse/><text>663</text></g><g id="n672" class="d" transform="translate(1678)"><ellipse/><text>672</text></g><g id="n681" class="e" transform="translate(1710)"><ellipse/><text>681</text></g><g id="n690" class="f" transform="translate(1742)"><ellipse/><text>690</text></g><g id="n708" class="g" transform="translate(1774)"><ellipse/><text>708</text></g><g id="n717" class="h" transform="translate(1806)"><ellipse/><text>717</text></g><g id="n726" class="a" transform="translate(1838)"><ellipse/><text>726</text></g><g id="n735" class="b" transform="translate(1870)"><ellipse/><text>735</text></g><g id="n744" class="c" transform="translate(1902)"><ellipse/><text>744</text></g><g id="n753" class="d" transform="translate(1934)"><ellipse/><text>753</text></g><g id="n762" class="e" transform="translate(1966)"><ellipse/><text>762</text></g><g id="n771" class="f" transform="translate(1998)"><ellipse/><text>771</text></g><g id="n780" class="g" transform="translate(2030)"><ellipse/><text>780</text></g><g id="n807" class="a" transform="translate(2062)"><ellipse/><text>807</text></g><g id="n816" class="b" transform="translate(2094)"><ellipse/><text>816</text></g><g id="n825" class="c" transform="translate(2126)"><ellipse/><text>825</text></g><g id="n834" class="d" transform="translate(2158)"><ellipse/><text>834</text></g><g id="n843" class="e" transform="translate(2190)"><ellipse/><text>843</text></g><g id="n852" class="f" transform="translate(2222)"><ellipse/><text>852</text></g><g id="n861" class="g" transform="translate(2254)"><ellipse/><text>861</text></g><g id="n870" class="h" transform="translate(2286)"><ellipse/><text>870</text></g><g id="n906" class="c" transform="translate(2318)"><ellipse/><text>906</text></g><g id="n915" class="d" transform="translate(2350)"><ellipse/><text>915</text></g><g id="n924" class="e" transform="translate(2382)"><ellipse/><text>924</text></g><g id="n933" class="f" transform="translate(2414)"><ellipse/><text>933</text></g><g id="n942" class="g" transform="translate(2446)"><ellipse/><text>942</text></g><g id="n951" class="h" transform="translate(2478)"><ellipse/><text>951</text></g><g id="n960" class="a" transform="translate(2510)"><ellipse/><text>960</text></g></g>
<g transform="translate(0 522)"><g id="n79" class="h" transform="translate(222)"><ellipse/><text>79</text></g><g id="n88" class="a" transform="translate(254)"><ellipse/><text>88</text></g><g id="n97" class="b" transform="translate(286)"><ellipse/><text>97</text></g><g id="n169" class="a" transform="translate(326)"><ellipse/><text>169</text></g><g id="n178" class="b" transform="translate(358)"><ellipse/><text>178</text></g><g id="n187" class="c" transform="translate(390)"><ellipse/><text>187</text></g><g id="n196" class="d" transform="translate(422)"><ellipse/><text>196</text></g><g id="n259" class="b" transform="translate(494)"><ellipse/><text>259</text></g><g id="n268" class="c" transform="translate(526)"><ellipse/><text>268</text></g><g id="n277" class="d" transform="translate(558)"><ellipse/><text>277</text></g><g id="n286" class="e" transform="translate(590)"><ellipse/><text>286</text></g><g id="n295" class="f" transform="translate(622)"><ellipse/><text>295</text></g><g id="n349" class="c" transform="translate(702)"><ellipse/><text>349</text></g><g id="n358" class="d" transform="translate(734)"><ellipse/><text>358</text></g><g id="n367" class="e" transform="translate(766)"><ellipse/><text>367</text></g><g id="n376" class="f" transform="translate(798)"><ellipse/><text>376</text></g><g id="n385" class="g" transform="translate(830)"><ellipse/><text>385</text></g><g id="n394" class="h" transform="translate(862)"><ellipse/><text>394</text></g><g id="n439" class="d" transform="translate(910)"><ellipse/><text>439</text></g><g id="n448" class="e" transform="translate(942)"><ellipse/><text>448</text></g><g id="n457" class="f" transform="translate(974)"><ellipse/><text>457</text></g><g id="n466" class="g" transform="translate(1006)"><ellipse/><text>466</text></g><g id="n475" class="h" transform="translate(1038)"><ellipse/><text>475</text></g><g id="n484" class="a" transform="translate(1070)"><ellipse/><text>484</text></g><g id="n493" class="b" transform="translate(1102)"><ellipse/><text>493</text></g><g id="n529" class="e" transform="translate(1134)"><ellipse/><text>529</text></g><g id="n538" class="f" transform="translate(1166)"><ellipse/><text>538</text></g><g id="n547" class="g" transform="translate(1198)"><ellipse/><text>547</text></g><g id="n556" class="h" transform="translate(1230)"><ellipse/><text>556</text></g><g id="n565" class="a" transform="translate(1262)"><ellipse/><text>565</text></g><g id="n574" class="b" transform="translate(1294)"><ellipse/><text>574</text></g><g id="n583" class="c" transform="translate(1326)"><ellipse/><text>583</text></g><g id="n592" class="d" transform="translate(1358)"><ellipse/><text>592</text></g><g id="n619" class="f" transform="translate(1390)"><ellipse/><text>619</text></g><g id="n628" class="g" transform="translate(1422)"><ellipse/><text>628</text></g><g id="n637" class="h" transform="translate(1454)"><ellipse/><text>637</text></g><g id="n646" class="a" transform="translate(1486)"><ellipse/><text>646</text></g><g id="n655" class="b" transform="translate(1518)"><ellipse/><text>655</text></g><g id="n664" class="c" transform="translate(1550)"><ellipse/><text>664</text></g><g id="n673" class="d" transform="translate(1582)"><ellipse/><text>673</text></g><g id="n682" class="e" transform="translate(1614)"><ellipse/><text>682</text></g><g id="n691" class="f" transform="translate(1646)"><ellipse/><text>691</text></g><g id="n709" class="g" transform="translate(1678)"><ellipse/><text>709</text></g><g id="n718" class="h" transform="translate(1710)"><ellipse/><text>718</text></g><g id="n727" class="a" transform="translate(1742)"><ellipse/><text>727</text></g><g id="n736" class="b" transform="translate(1774)"><ellipse/><text>736</text></g><g id="n745" class="c" transform="translate(1806)"><ellipse/><text>745</text></g><g id="n754" class="d" transform="translate(1838)"><ellipse/><text>754</text></g><g id="n763" class="e" transform="translate(1870)"><ellipse/><text>763</text></g><g id="n772" class="f" transform="translate(1902)"><ellipse/><text>772</text></g><g id="n781" class="g" transform="translate(1934)"><ellipse/><text>781</text></g><g id="n790" class="h" transform="translate(1966)"><ellipse/><text>790</text></g><g id="n808" class="a" transform="translate(1998)"><ellipse/><text>808</text></g><g id="n817" class="b" transform="translate(2030)"><ellipse/><text>817</text></g><g id="n826" class="c" transform="translate(2062)"><ellipse/><text>826</text></g><g id="n835" class="d" transform="translate(2094)"><ellipse/><text>835</text></g><g id="n844" class="e" transform="translate(2126)"><ellipse/><text>844</text></g><g id="n853" class="f" transform="translate(2158)"><ellipse/><text>853</text></g><g id="n862" class="g" transform="translate(2190)"><ellipse/><text>862</text></g><g id="n871" class="h" transform="translate(2222)"><ellipse/><text>871</text></g><g id="n880" class="a" transform="translate(2254)"><ellipse/><text>880</text></g><g id="n907" class="c" transform="translate(2286)"><ellipse/><text>907</text></g><g id="n916" class="d" transform="translate(2318)"><ellipse/><text>916</text></g><g id="n925" class="e" transform="translate(2350)"><ellipse/><text>925</text></g><g id="n934" class="f" transform="translate(2382)"><ellipse/><text>934</text></g><g id="n943" class="g" transform="translate(2414)"><ellipse/><text>943</text></g><g id="n952" class="h" transform="translate(2446)"><ellipse/><text>952</text></g><g id="n961" class="a" transform="translate(2478)"><ellipse/><text>961</text></g><g id="n970" class="b" transform="translate(2510)"><ellipse/><text>970</text></g></g>
<g transform="translate(0 554)"><g id="n89" class="a" transform="translate(254)"><ellipse/><text>89</text></g><g id="n98" class="b" transform="translate(286)"><ellipse/><text>98</text></g><g id="n179" class="b" transform="translate(342)"><ellipse/><text>179</text></g><g id="n188" class="c" transform="translate(374)"><ellipse/><text>188</text></g><g id="n197" class="d" transform="translate(406)"><ellipse/><text>197</text></g><g id="n269" class="c" transform="translate(510)"><ellipse/><text>269</text></g><g id="n278" class="d" transform="translate(542)"><ellipse/><text>278</text></g><g id="n287" class="e" transform="translate(574)"><ellipse/><text>287</text></g><g id="n296" class="f" transform="translate(606)"><ellipse/><text>296</text></g><g id="n359" class="d" transform="translate(718)"><ellipse/><text>359</text></g><g id="n368" class="e" transform="translate(750)"><ellipse/><text>368</text></g><g id="n377" class="f" transform="translate(782)"><ellipse/><text>377</text></g><g id="n386" class="g" transform="translate(814)"><ellipse/><text>386</text></g><g id="n395" class="h" transform="translate(846)"><ellipse/><text>395</text></g><g id="n449" class="e" transform="translate(926)"><ellipse/><text>449</text></g><g id="n458" class="f" transform="translate(958)"><ellipse/><text>458</text></g><g id="n467" class="g" transform="translate(990)"><ellipse/><text>467</text></g><g id="n476" class="h" transform="translate(1022)"><ellipse/><text>476</text></g><g id="n485" class="a" transform="translate(1054)"><ellipse/><text>485</text></g><g id="n494" class="b" transform="translate(1086)"><ellipse/><text>494</text></g><g id="n539" class="f" transform="translate(1134)"><ellipse/><text>539</text></g><g id="n548" class="g" transform="translate(1166)"><ellipse/><text>548</text></g><g id="n557" class="h" transform="translate(1198)"><ellipse/><text>557</text></g><g id="n566" class="a" transform="translate(1230)"><ellipse/><text>566</text></g><g id="n575" class="b" transform="translate(1262)"><ellipse/><text>575</text></g><g id="n584" class="c" transform="translate(1294)"><ellipse/><text>584</text></g><g id="n593" class="d" transform="translate(1326)"><ellipse/><text>593</text></g><g id="n629" class="g" transform="translate(1390)"><ellipse/><text>629</text></g><g id="n638" class="h" transform="translate(1422)"><ellipse/><text>638</text></g><g id="n647" class="a" transform="translate(1454)"><ellipse/><text>647</text></g><g id="n656" class="b" transform="translate(1486)"><ellipse/><text>656</text></g><g id="n665" class="c" transform="translate(1518)"><ellipse/><text>665</text></g><g id="n674" class="d" transform="translate(1550)"><ellipse/><text>674</text></g><g id="n683" class="e" transform="translate(1582)"><ellipse/><text>683</text></g><g id="n692" class="f" transform="translate(1614)"><ellipse/><text>692</text></g><g id="n719" class="h" transform="translate(1646)"><ellipse/><text>719</text></g><g id="n728" class="a" transform="translate(1678)"><ellipse/><text>728</text></g><g id="n737" class="b" transform="translate(1710)"><ellipse/><text>737</text></g><g id="n746" class="c" transform="translate(1742)"><ellipse/><text>746</text></g><g id="n755" class="d" transform="translate(1774)"><ellipse/><text>755</text></g><g id="n764" class="e" transform="translate(1806)"><ellipse/><text>764</text></g><g id="n773" class="f" transform="translate(1838)"><ellipse/><text>773</text></g><g id="n782" class="g" transform="translate(1870)"><ellipse/><text>782</text></g><g id="n791" class="h" transform="translate(1902)"><ellipse/><text>791</text></g><g id="n809" class="a" transform="translate(1934)"><ellipse/><text>809</text></g><g id="n818" class="b" transform="translate(1966)"><ellipse/><text>818</text></g><g id="n827" class="c" transform="translate(1998)"><ellipse/><text>827</text></g><g id="n836" class="d" transform="translate(2030)"><ellipse/><text>836</text></g><g id="n845" class="e" transform="translate(2062)"><ellipse/><text>845</text></g><g id="n854" class="f" transform="translate(2094)"><ellipse/><text>854</text></g><g id="n863" class="g" transform="translate(2126)"><ellipse/><text>863</text></g><g id="n872" class="h" transform="translate(2158)"><ellipse/><text>872</text></g><g id="n881" class="a" transform="translate(2190)"><ellipse/><text>881</text></g><g id="n890" class="b" transform="translate(2222)"><ellipse/><text>890</text></g><g id="n908" class="c" transform="translate(2254)"><ellipse/><text>908</text></g><g id="n917" class="d" transform="translate(2286)"><ellipse/><text>917</text></g><g id="n926" class="e" transform="translate(2318)"><ellipse/><text>926</text></g><g id="n935" class="f" transform="translate(2350)"><ellipse/><text>935</text></g><g id="n944" class="g" transform="translate(2382)"><ellipse/><text>944</text></g><g id="n953" class="h" transform="translate(2414)"><ellipse/><text>953</text></g><g id="n962" class="a" transform="translate(2446)"><ellipse/><text>962</text></g><g id="n971" class="b" transform="translate(2478)"><ellipse/><text>971</text></g><g id="n980" class="c" transform="translate(2510)"><ellipse/><text>980</text></g></g>
<g transform="translate(0 586)"><g id="n99" class="b" transform="translate(286)"><ellipse/><text>99</text></g><g id="n189" class="c" transform="translate(358)"><ellipse/><text>189</text></g><g id="n198" class="d" transform="translate(390)"><ellipse/><text>198</text></g><g id="n279" class="d" transform="translate(526)"><ellipse/><text>279</text></g><g id="n288" class="e" transform="translate(558)"><ellipse/><text>288</text></g><g id="n297" class="f" transform="translate(590)"><ellipse/><text>297</text></g><g id="n369" class="e" transform="translate(734)"><ellipse/><text>369</text></g><g id="n378" class="f" transform="translate(766)"><ellipse/><text>378</text></g><g id="n387" class="g" transform="translate(798)"><ellipse/><text>387</text></g><g id="n396" class="h" transform="translate(830)"><ellipse/><text>396</text></g><g id="n459" class="f" transform="translate(942)"><ellipse/><text>459</text></g><g id="n468" class="g" transform="translate(974)"><ellipse/><text>468</text></g><g id="n477" class="h" transform="translate(1006)"><ellipse/><text>477</text></g><g id="n486" class="a" transform="translate(1038)"><ellipse/><text>486</text></g><g id="n495" class="b" transform="translate(1070)"><ellipse/><text>495</text></g><g id="n549" class="g" transform="translate(1150)"><ellipse/><text>549</text></g><g id="n558" class="h" transform="translate(1182)"><ellipse/><text>558</text></g><g id="n567" class="a" transform="translate(1214)"><ellipse/><text>567</text></g><g id="n576" class="b" transform="translate(1246)"><ellipse/><text>576</text></g><g id="n585" class="c" transform="translate(1278)"><ellipse/><text>585</text></g><g id="n594" class="d" transform="translate(1310)"><ellipse/><text>594</text></g><g id="n639" class="h" transform="translate(1390)"><ellipse/><text>639</text></g><g id="n648" class="a" transform="translate(1422)"><ellipse/><text>648</text></g><g id="n657" class="b" transform="translate(1454)"><ellipse/><text>657</text></g><g id="n666" class="c" transform="translate(1486)"><ellipse/><text>666</text></g><g id="n675" class="d" transform="translate(1518)"><ellipse/><text>675</text></g><g id="n684" class="e" transform="translate(1550)"><ellipse/><text>684</text></g><g id="n693" class="f" transform="translate(1582)"><ellipse/><text>693</text></g><g id="n729" class="a" transform="translate(1614)"><ellipse/><text>729</text></g><g id="n738" class="b" transform="translate(1646)"><ellipse/><text>738</text></g><g id="n747" class="c" transform="translate(1678)"><ellipse/><text>747</text></g><g id="n756" class="d" transform="translate(1710)"><ellipse/><text>756</text></g><g id="n765" class="e" transform="translate(1742)"><ellipse/><text>765</text></g><g id="n774" class="f" transform="translate(1774)"><ellipse/><text>774</text></g><g id="n783" class="g" transform="translate(1806)"><ellipse/><text>783</text></g><g id="n792" class="h" transform="translate(1838)"><ellipse/><text>792</text></g><g id="n819" class="b" transform="translate(1870)"><ellipse/><text>819</text></g><g id="n828" class="c" transform="translate(1902)"><ellipse/><text>828</text></g><g id="n837" class="d" transform="translate(1934)"><ellipse/><text>837</text></g><g id="n846" class="e" transform="translate(1966)"><ellipse/><text>846</text></g><g id="n855" class="f" transform="translate(1998)"><ellipse/><text>855</text></g><g id="n864" class="g" transform="translate(2030)"><ellipse/><text>864</text></g><g id="n873" class="h" transform="translate(2062)"><ellipse/><text>873</text></g><g id="n882" class="a" transform="translate(2094)"><ellipse/><text>882</text></g><g id="n891" class="b" transform="translate(2126)"><ellipse/><text>891</text></g><g id="n909" class="c" transform="translate(2158)"><ellipse/><text>909</text></g><g id="n918" class="d" transform="translate(2190)"><ellipse/><text>918</text></g><g id="n927" class="e" transform="translate(2222)"><ellipse/><text>927</text></g><g id="n936" class="f" transform="translate(2254)"><ellipse/><text>936</text></g><g id="n945" class="g" transform="translate(2286)"><ellipse/><text>945</text></g><g id="n954" class="h" transform="translate(2318)"><ellipse/><text>954</text></g><g id="n963" class="a" transform="translate(2350)"><ellipse/><text>963</text></g><g id="n972" class="b" transform="translate(2382)"><ellipse/><text>972</text></g><g id="n981" class="c" transform="translate(2414)"><ellipse/><text>981</text></g><g id="n990" class="d" transform="translate(2446)"><ellipse/><text>990</text></g></g>
<g transform="translate(0 618)"><g id="n199" class="d" transform="translate(374)"><ellipse/><text>199</text></g><g id="n289" class="e" transform="translate(542)"><ellipse/><text>289</text></g><g id="n298" class="f" transform="translate(574)"><ellipse/><text>298</text></g><g id="n379" class="f" transform="translate(750)"><ellipse/><text>379</text></g><g id="n388" class="g" transform="translate(782)"><ellipse/><text>388</text></g><g id="n397" class="h" transform="translate(814)"><ellipse/><text>397</text></g><g id="n469" class="g" transform="translate(958)"><ellipse/><text>469</text></g><g id="n478" class="h" transform="translate(990)"><ellipse/><text>478</text></g><g id="n487" class="a" transform="translate(1022)"><ellipse/><text>487</text></g><g id="n496" class="b" transform="translate(1054)"><ellipse/><text>496</text></g><g id="n559" class="h" transform="translate(1166)"><ellipse/><text>559</text></g><g id="n568" class="a" transform="translate(1198)"><ellipse/><text>568</text></g><g id="n577" class="b" transform="translate(1230)"><ellipse/><text>577</text></g><g id="n586" class="c" transform="translate(1262)"><ellipse/><text>586</text></g><g id="n595" class="d" transform="translate(1294)"><ellipse/><text>595</text></g><g id="n649" class="a" transform="translate(1414)"><ellipse/><text>649</text></g><g id="n658" class="b" transform="translate(1446)"><ellipse/><text>658</text></g><g id="n667" class="c" transform="translate(1478)"><ellipse/><text>667</text></g><g id="n676" class="d" transform="translate(1510)"><ellipse/><text>676</text></g><g id="n685" class="e" transform="translate(1542)"><ellipse/><text>685</text></g><g id="n694" class="f" transform="translate(1574)"><ellipse/><text>694</text></g><g id="n739" class="b" transform="translate(1614)"><ellipse/><text>739</text></g><g id="n748" class="c" transform="translate(1646)"><ellipse/><text>748</text></g><g id="n757" class="d" transform="translate(1678)"><ellipse/><text>757</text></g><g id="n766" class="e" transform="translate(1710)"><ellipse/><text>766</text></g><g id="n775" class="f" transform="translate(1742)"><ellipse/><text>775</text></g><g id="n784" class="g" transform="translate(1774)"><ellipse/><text>784</text></g><g id="n793" class="h" transform="translate(1806)"><ellipse/><text>793</text></g><g id="n829" class="c" transform="translate(1838)"><ellipse/><text>829</text></g><g id="n838" class="d" transform="translate(1870)"><ellipse/><text>838</text></g><g id="n847" class="e" transform="translate(1902)"><ellipse/><text>847</text></g><g id="n856" class="f" transform="translate(1934)"><ellipse/><text>856</text></g><g id="n865" class="g" transform="translate(1966)"><ellipse/><text>865</text></g><g id="n874" class="h" transform="translate(1998)"><ellipse/><text>874</text></g><g id="n883" class="a" transform="translate(2030)"><ellipse/><text>883</text></g><g id="n892" class="b" transform="translate(2062)"><ellipse/><text>892</text></g><g id="n919" class="d" transform="translate(2094)"><ellipse/><text>919</text></g><g id="n928" class="e" transform="translate(2126)"><ellipse/><text>928</text></g><g id="n937" class="f" transform="translate(2158)"><ellipse/><text>937</text></g><g id="n946" class="g" transform="translate(2190)"><ellipse/><text>946</text></g><g id="n955" class="h" transform="translate(2222)"><ellipse/><text>955</text></g><g id="n964" class="a" transform="translate(2254)"><ellipse/><text>964</text></g><g id="n973" class="b" transform="translate(2286)"><ellipse/><text>973</text></g><g id="n982" class="c" transform="translate(2318)"><ellipse/><text>982</text></g><g id="n991" class="d" transform="translate(2382)"><ellipse/><text>991</text></g></g>
<g transform="translate(0 650)"><g id="n299" class="f" transform="translate(558)"><ellipse/><text>299</text></g><g id="n389" class="g" transform="translate(766)"><ellipse/><text>389</text></g><g id="n398" class="h" transform="translate(798)"><ellipse/><text>398</text></g><g id="n479" class="h" transform="translate(974)"><ellipse/><text>479</text></g><g id="n488" class="a" transform="translate(1006)"><ellipse/><text>488</text></g><g id="n497" class="b" transform="translate(1038)"><ellipse/><text>497</text></g><g id="n569" class="a" transform="translate(1182)"><ellipse/><text>569</text></g><g id="n578" class="b" transform="translate(1214)"><ellipse/><text>578</text></g><g id="n587" class="c" transform="translate(1246)"><ellipse/><text>587</text></g><g id="n596" class="d" transform="translate(1278)"><ellipse/><text>596</text></g><g id="n659" class="b" transform="translate(1438)"><ellipse/><text>659</text></g><g id="n668" class="c" transform="translate(1470)"><ellipse/><text>668</text></g><g id="n677" class="d" transform="translate(1502)"><ellipse/><text>677</text></g><g id="n686" class="e" transform="translate(1534)"><ellipse/><text>686</text></g><g id="n695" class="f" transform="translate(1566)"><ellipse/><text>695</text></g><g id="n749" class="c" transform="translate(1614)"><ellipse/><text>749</text></g><g id="n758" class="d" transform="translate(1646)"><ellipse/><text>758</text></g><g id="n767" class="e" transform="translate(1678)"><ellipse/><text>767</text></g><g id="n776" class="f" transform="translate(1710)"><ellipse/><text>776</text></g><g id="n785" class="g" transform="translate(1742)"><ellipse/><text>785</text></g><g id="n794" class="h" transform="translate(1774)"><ellipse/><text>794</text></g><g id="n839" class="d" transform="translate(1806)"><ellipse/><text>839</text></g><g id="n848" class="e" transform="translate(1838)"><ellipse/><text>848</text></g><g id="n857" class="f" transform="translate(1870)"><ellipse/><text>857</text></g><g id="n866" class="g" transform="translate(1902)"><ellipse/><text>866</text></g><g id="n875" class="h" transform="translate(1934)"><ellipse/><text>875</text></g><g id="n884" class="a" transform="translate(1966)"><ellipse/><text>884</text></g><g id="n893" class="b" transform="translate(1998)"><ellipse/><text>893</text></g><g id="n929" class="e" transform="translate(2030)"><ellipse/><text>929</text></g><g id="n938" class="f" transform="translate(2062)"><ellipse/><text>938</text></g><g id="n947" class="g" transform="translate(2094)"><ellipse/><text>947</text></g><g id="n956" class="h" transform="translate(2126)"><ellipse/><text>956</text></g><g id="n965" class="a" transform="translate(2158)"><ellipse/><text>965</text></g><g id="n974" class="b" transform="translate(2190)"><ellipse/><text>974</text></g><g id="n983" class="c" transform="translate(2222)"><ellipse/><text>983</text></g><g id="n992" class="d" transform="translate(2286)"><ellipse/><text>992</text></g></g>
<g transform="translate(0 682)"><g id="n399" class="h" transform="translate(782)"><ellipse/><text>399</text></g><g id="n489" class="a" transform="translate(990)"><ellipse/><text>489</text></g><g id="n498" class="b" transform="translate(1022)"><ellipse/><text>498</text></g><g id="n579" class="b" transform="translate(1198)"><ellipse/><text>579</text></g><g id="n588" class="c" transform="translate(1230)"><ellipse/><text>588</text></g><g id="n597" class="d" transform="translate(1262)"><ellipse/><text>597</text></g><g id="n669" class="c" transform="translate(1454)"><ellipse/><text>669</text></g><g id="n678" class="d" transform="translate(1486)"><ellipse/><text>678</text></g><g id="n687" class="e" transform="translate(1518)"><ellipse/><text>687</text></g><g id="n696" class="f" transform="translate(1550)"><ellipse/><text>696</text></g><g id="n759" class="d" transform="translate(1614)"><ellipse/><text>759</text></g><g id="n768" class="e" transform="translate(1646)"><ellipse/><text>768</text></g><g id="n777" class="f" transform="translate(1678)"><ellipse/><text>777</text></g><g id="n786" class="g" transform="translate(1710)"><ellipse/><text>786</text></g><g id="n795" class="h" transform="translate(1742)"><ellipse/><text>795</text></g><g id="n849" class="e" transform="translate(1774)"><ellipse/><text>849</text></g><g id="n858" class="f" transform="translate(1806)"><ellipse/><text>858</text></g><g id="n867" class="g" transform="translate(1838)"><ellipse/><text>867</text></g><g id="n876" class="h" transform="translate(1870)"><ellipse/><text>876</text></g><g id="n885" class="a" transform="translate(1902)"><ellipse/><text>885</text></g><g id="n894" class="b" transform="translate(1934)"><ellipse/><text>894</text></g><g id="n939" class="f" transform="translate(1966)"><ellipse/><text>939</text></g><g id="n948" class="g" transform="translate(1998)"><ellipse/><text>948</text></g><g id="n957" class="h" transform="translate(2030)"><ellipse/><text>957</text></g><g id="n966" class="a" transform="translate(2062)"><ellipse/><text>966</text></g><g id="n975" class="b" transform="translate(2094)"><ellipse/><text>975</text></g><g id="n984" class="c" transform="translate(2126)"><ellipse/><text>984</text></g><g id="n993" class="d" transform="translate(2190)"><ellipse/><text>993</text></g></g>
<g transform="translate(0 714)"><g id="n499" class="b" transform="translate(1006)"><ellipse/><text>499</text></g><g id="n589" class="c" transform="translate(1214)"><ellipse/><text>589</text></g><g id="n598" class="d" transform="translate(1246)"><ellipse/><text>598</text></g><g id="n679" class="d" transform="translate(1470)"><ellipse/><text>679</text></g><g id="n688" class="e" transform="translate(1502)"><ellipse/><text>688</text></g><g id="n697" class="f" transform="translate(1534)"><ellipse/><text>697</text></g><g id="n769" class="e" transform="translate(1646)"><ellipse/><text>769</text></g><g id="n778" class="f" transform="translate(1678)"><ellipse/><text>778</text></g><g id="n787" class="g" transform="translate(1710)"><ellipse/><text>787</text></g><g id="n796" class="h" transform="translate(1742)"><ellipse/><text>796</text></g><g id="n859" class="f" transform="translate(1774)"><ellipse/><text>859</text></g><g id="n868" class="g" transform="translate(1806)"><ellipse/><text>868</text></g><g id="n877" class="h" transform="translate(1838)"><ellipse/><text>877</text></g><g id="n886" class="a" transform="translate(1870)"><ellipse/><text>886</text></g><g id="n895" class="b" transform="translate(1902)"><ellipse/><text>895</text></g><g id="n949" class="g" transform="translate(1934)"><ellipse/><text>949</text></g><g id="n958" class="h" transform="translate(1966)"><ellipse/><text>958</text></g><g id="n967" class="a" transform="translate(1998)"><ellipse/><text>967</text></g><g id="n976" class="b" transform="translate(2030)"><ellipse/><text>976</text></g><g id="n985" class="c" transform="translate(2062)"><ellipse/><text>985</text></g><g id="n994" class="d" transform="translate(2110)"><ellipse/><text>994</text></g></g>
<g transform="translate(0 746)"><g id="n599" class="d" transform="translate(1230)"><ellipse/><text>599</text></g><g id="n689" class="e" transform="translate(1486)"><ellipse/><text>689</text></g><g id="n698" class="f" transform="translate(1518)"><ellipse/><text>698</text></g><g id="n779" class="f" transform="translate(1662)"><ellipse/><text>779</text></g><g id="n788" class="g" transform="translate(1694)"><ellipse/><text>788</text></g><g id="n797" class="h" transform="translate(1726)"><ellipse/><text>797</text></g><g id="n869" class="g" transform="translate(1774)"><ellipse/><text>869</text></g><g id="n878" class="h" transform="translate(1806)"><ellipse/><text>878</text></g><g id="n887" class="a" transform="translate(1838)"><ellipse/><text>887</text></g><g id="n896" class="b" transform="translate(1870)"><ellipse/><text>896</text></g><g id="n959" class="h" transform="translate(1902)"><ellipse/><text>959</text></g><g id="n968" class="a" transform="translate(1934)"><ellipse/><text>968</text></g><g id="n977" class="b" transform="translate(1966)"><ellipse/><text>977</text></g><g id="n986" class="c" transform="translate(1998)"><ellipse/><text>986</text></g><g id="n995" class="d" transform="translate(2046)"><ellipse/><text>995</text></g></g>
<g transform="translate(0 778)"><g id="n699" class="f" transform="translate(1502)"><ellipse/><text>699</text></g><g id="n789" class="g" transform="translate(1678)"><ellipse/><text>789</text></g><g id="n798" class="h" transform="translate(1710)"><ellipse/><text>798</text></g><g id="n879" class="h" transform="translate(1774)"><ellipse/><text>879</text></g><g id="n888" class="a" transform="translate(1806)"><ellipse/><text>888</text></g><g id="n897" class="b" transform="translate(1838)"><ellipse/><text>897</text></g><g id="n969" class="a" transform="translate(1870)"><ellipse/><text>969</text></g><g id="n978" class="b" transform="translate(1902)"><ellipse/><text>978</text></g><g id="n987" class="c" transform="translate(1934)"><ellipse/><text>987</text></g><g id="n996" class="d" transform="translate(1982)"><ellipse/><text>996</text></g></g>
<g transform="translate(0 810)"><g id="n799" class="h" transform="translate(1694)"><ellipse/><text>799</text></g><g id="n889" class="a" transform="translate(1782)"><ellipse/><text>889</text></g><g id="n898" class="b" transform="translate(1814)"><ellipse/><text>898</text></g><g id="n979" class="b" transform="translate(1846)"><ellipse/><text>979</text></g><g id="n988" class="c" transform="translate(1878)"><ellipse/><text>988</text></g><g id="n997" class="d" transform="translate(1926)"><ellipse/><text>997</text></g></g>
<g transform="translate(0 842)"><g id="n899" class="b" transform="translate(1798)"><ellipse/><text>899</text></g><g id="n989" class="c" transform="translate(1846)"><ellipse/><text>989</text></g><g id="n998" class="d" transform="translate(1878)"><ellipse/><text>998</text></g></g>
<g transform="translate(0 874)"><g id="n999" class="d" transform="translate(1846)"><ellipse/><text>999</text></g></g>
</g>
</svg>
